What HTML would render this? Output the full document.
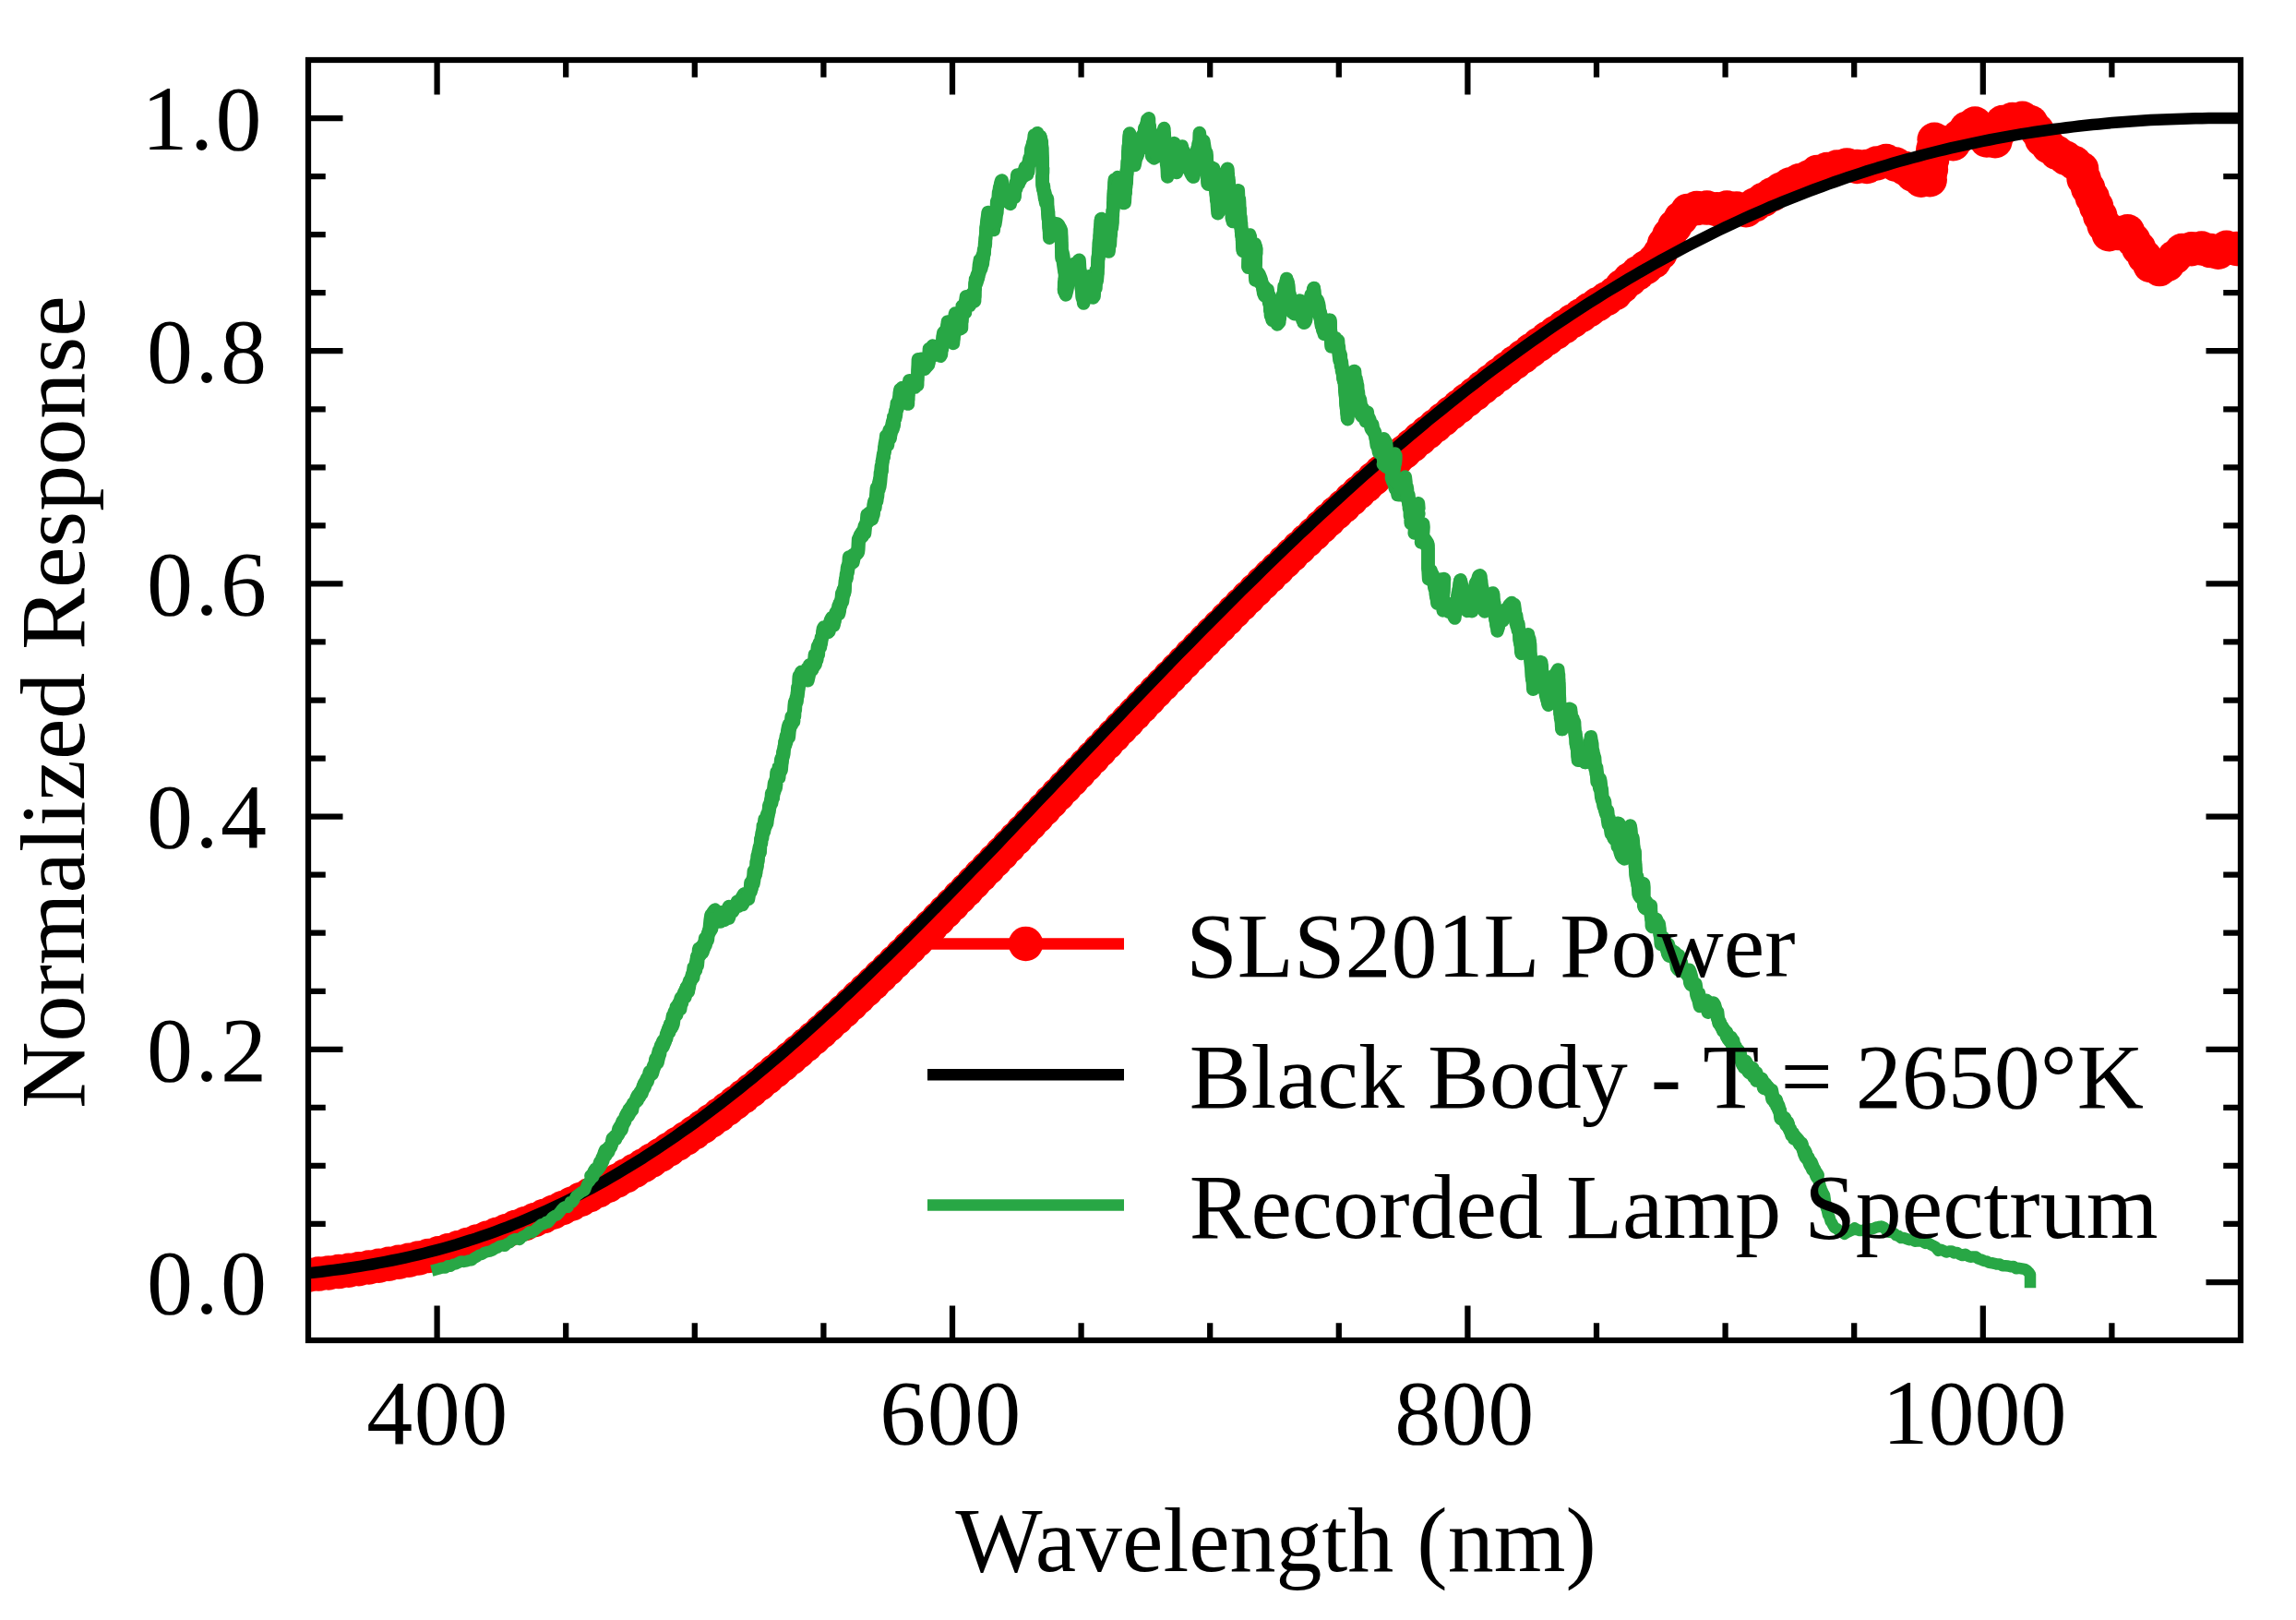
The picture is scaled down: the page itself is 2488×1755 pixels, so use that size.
<!DOCTYPE html>
<html lang="en"><head><meta charset="utf-8"><title>Lamp spectrum</title>
<style>html,body{margin:0;padding:0;background:#fff}body{width:2488px;height:1755px;overflow:hidden}svg{display:block}</style>
</head><body>
<svg width="2488" height="1755" viewBox="0 0 2488 1755" font-family='"Liberation Serif", serif' font-size="100" fill="#000">
<rect width="2488" height="1755" fill="#fff"/>
<defs><clipPath id="ax"><rect x="334.0" y="65.0" width="2094.0" height="1387.0"/></clipPath></defs>
<path d="M473.60 1452.0v-37.5M473.60 65.0v37.5M613.20 1452.0v-18.75M613.20 65.0v18.75M752.80 1452.0v-18.75M752.80 65.0v18.75M892.40 1452.0v-18.75M892.40 65.0v18.75M1032.00 1452.0v-37.5M1032.00 65.0v37.5M1171.60 1452.0v-18.75M1171.60 65.0v18.75M1311.20 1452.0v-18.75M1311.20 65.0v18.75M1450.80 1452.0v-18.75M1450.80 65.0v18.75M1590.40 1452.0v-37.5M1590.40 65.0v37.5M1730.00 1452.0v-18.75M1730.00 65.0v18.75M1869.60 1452.0v-18.75M1869.60 65.0v18.75M2009.20 1452.0v-18.75M2009.20 65.0v18.75M2148.80 1452.0v-37.5M2148.80 65.0v37.5M2288.40 1452.0v-18.75M2288.40 65.0v18.75M334.0 1389.00h37.5M2428.0 1389.00h-37.5M334.0 1325.95h18.75M2428.0 1325.95h-18.75M334.0 1262.90h18.75M2428.0 1262.90h-18.75M334.0 1199.85h18.75M2428.0 1199.85h-18.75M334.0 1136.80h37.5M2428.0 1136.80h-37.5M334.0 1073.75h18.75M2428.0 1073.75h-18.75M334.0 1010.70h18.75M2428.0 1010.70h-18.75M334.0 947.65h18.75M2428.0 947.65h-18.75M334.0 884.60h37.5M2428.0 884.60h-37.5M334.0 821.55h18.75M2428.0 821.55h-18.75M334.0 758.50h18.75M2428.0 758.50h-18.75M334.0 695.45h18.75M2428.0 695.45h-18.75M334.0 632.40h37.5M2428.0 632.40h-37.5M334.0 569.35h18.75M2428.0 569.35h-18.75M334.0 506.30h18.75M2428.0 506.30h-18.75M334.0 443.25h18.75M2428.0 443.25h-18.75M334.0 380.20h37.5M2428.0 380.20h-37.5M334.0 317.15h18.75M2428.0 317.15h-18.75M334.0 254.10h18.75M2428.0 254.10h-18.75M334.0 191.05h18.75M2428.0 191.05h-18.75M334.0 128.00h37.5M2428.0 128.00h-37.5" stroke="#000" stroke-width="6.25" fill="none"/>
<g clip-path="url(#ax)" fill="none" stroke-linejoin="round">
<polyline points="334.2,1381.2 339.8,1380.7 345.4,1380.1 351.0,1379.5 356.6,1378.9 362.2,1378.2 367.8,1377.5 373.4,1376.8 379.0,1376.1 384.7,1375.3 390.3,1374.5 395.9,1373.6 401.5,1372.7 407.1,1371.8 412.7,1370.9 418.3,1369.9 424.0,1368.9 429.6,1367.8 435.2,1366.7 440.8,1365.6 446.5,1364.4 452.1,1363.2 457.7,1362.0 463.4,1360.7 469.0,1359.3 474.6,1358.0 480.2,1356.4 485.8,1354.8 491.4,1353.1 497.1,1351.4 502.7,1349.7 508.3,1347.9 513.9,1346.1 519.5,1344.2 525.1,1342.2 530.7,1340.3 536.3,1338.2 541.9,1336.1 547.5,1334.0 553.1,1331.8 558.7,1329.6 564.3,1327.4 570.0,1325.3 575.7,1323.1 581.3,1320.8 587.0,1318.5 592.7,1316.1 598.4,1313.6 604.1,1311.1 609.7,1308.6 615.4,1306.0 621.1,1303.3 626.8,1300.6 632.5,1297.9 638.2,1295.1 643.9,1292.2 649.6,1289.3 655.3,1286.3 661.0,1283.2 666.7,1280.2 672.4,1277.0 678.1,1273.8 683.8,1270.6 689.5,1267.2 695.2,1263.9 700.9,1260.4 706.6,1256.9 712.3,1253.4 718.0,1249.8 723.7,1246.2 729.3,1242.5 735.0,1238.7 740.7,1234.9 746.4,1231.1 752.1,1227.2 757.8,1223.2 763.5,1219.2 769.2,1215.2 774.9,1211.1 780.6,1206.9 786.3,1202.6 791.9,1198.4 797.6,1194.0 803.3,1189.7 808.9,1185.2 814.6,1180.8 820.2,1176.3 825.9,1171.7 831.6,1167.1 837.2,1162.5 842.9,1157.8 848.6,1153.1 854.2,1148.3 859.9,1143.5 865.5,1138.7 871.2,1133.8 876.8,1128.9 882.5,1124.0 888.2,1119.0 893.8,1114.0 899.5,1108.9 905.1,1103.8 910.7,1098.6 916.3,1093.4 921.9,1088.2 927.5,1082.9 933.1,1077.6 938.7,1072.3 944.3,1066.9 949.9,1061.5 955.5,1056.1 961.1,1050.7 966.7,1045.2 972.3,1039.7 977.9,1034.2 983.5,1028.7 989.1,1023.1 994.7,1017.5 1000.3,1011.9 1005.9,1006.3 1011.5,1000.7 1017.1,995.0 1022.7,989.3 1028.3,983.7 1033.9,977.9 1039.5,972.2 1045.1,966.5 1050.7,960.7 1056.3,954.9 1061.9,949.2 1067.5,943.4 1073.1,937.6 1078.7,931.7 1084.3,925.9 1089.8,920.1 1095.4,914.2 1101.0,908.4 1106.6,902.5 1112.2,896.6 1117.8,890.8 1123.4,884.9 1129.0,879.0 1134.5,873.1 1140.1,867.2 1145.7,861.4 1151.3,855.5 1156.9,849.6 1162.5,843.7 1168.1,837.8 1173.6,831.9 1179.2,826.0 1184.8,820.1 1190.4,814.3 1196.0,808.4 1201.5,802.5 1207.1,796.6 1212.7,790.8 1218.3,784.9 1223.9,779.1 1229.4,773.3 1235.0,767.4 1240.6,761.6 1246.2,755.8 1251.8,750.0 1257.3,744.2 1262.9,738.4 1268.5,732.7 1274.1,726.9 1279.6,721.2 1285.2,715.4 1290.8,709.7 1296.4,704.0 1301.9,698.3 1307.5,692.7 1313.1,687.0 1318.7,681.4 1324.2,675.8 1329.8,670.1 1335.3,664.6 1340.9,659.0 1346.4,653.4 1352.0,647.9 1357.6,642.4 1363.1,636.9 1368.7,631.4 1374.2,625.9 1379.8,620.5 1385.3,615.1 1390.9,609.7 1396.5,604.3 1402.0,599.0 1407.6,593.6 1413.1,588.3 1418.7,583.1 1424.2,577.8 1429.8,572.6 1435.3,567.4 1440.9,562.2 1446.4,557.1 1452.0,552.0 1457.5,546.9 1463.1,541.8 1468.6,536.7 1474.1,531.7 1479.7,526.7 1485.2,521.7 1490.8,516.8 1496.3,511.9 1501.8,507.0 1507.4,502.1 1512.9,497.3 1518.4,492.5 1524.0,487.7 1529.5,483.0 1535.0,478.3 1540.6,473.6 1546.1,468.9 1551.6,464.3 1557.2,459.7 1562.7,455.2 1568.3,450.6 1573.8,446.1 1579.3,441.7 1584.9,437.2 1590.4,432.8 1595.9,428.5 1601.4,424.1 1606.9,419.7 1612.4,415.3 1617.8,411.0 1623.3,406.7 1628.8,402.5 1634.3,398.3 1639.8,394.1 1645.2,389.9 1650.7,385.8 1656.2,381.7 1661.7,377.7 1667.2,373.7 1672.6,369.7 1678.1,365.7 1683.6,361.8 1689.2,358.0 1694.7,354.2 1700.2,350.4 1705.7,346.7 1711.2,343.0 1716.8,339.3 1722.3,335.6 1727.8,332.0 1733.3,328.5 1738.8,324.9 1744.4,321.4 1749.9,317.9 1762.0,306.0 1777.0,294.0 1790.6,285.0 1798.8,275.0 1805.6,260.0 1817.5,241.0 1831.0,226.0 1849.0,225.0 1862.0,227.0 1876.0,224.0 1890.0,229.0 1908.0,218.0 1925.0,208.0 1943.0,198.0 1959.0,192.5 1970.0,186.0 2000.0,178.8 2020.0,181.5 2042.5,174.0 2062.5,181.0 2080.0,195.0 2091.0,196.5 2096.0,151.2 2115.0,157.5 2130.0,140.0 2140.0,133.8 2155.0,155.0 2162.5,152.5 2170.0,132.5 2185.0,128.2 2196.2,128.2 2205.0,137.5 2215.0,155.0 2230.0,166.2 2245.0,175.0 2255.0,180.0 2257.5,192.5 2270.0,220.0 2282.5,250.0 2286.2,255.0 2305.0,250.0 2320.0,272.5 2330.0,287.5 2342.5,292.5 2352.0,283.0 2360.0,275.0 2367.0,269.5 2380.0,270.0 2391.0,268.0 2400.7,276.0 2409.6,268.0 2423.5,269.5 2440.0,269.5" stroke="#ff0000" stroke-width="12.5" stroke-linecap="round"/>
<g fill="#ff0000" stroke="none"><circle cx="334.2" cy="1381.2" r="18.75"/><circle cx="345.2" cy="1380.1" r="18.75"/><circle cx="356.1" cy="1378.9" r="18.75"/><circle cx="367.0" cy="1377.6" r="18.75"/><circle cx="377.9" cy="1376.2" r="18.75"/><circle cx="388.8" cy="1374.7" r="18.75"/><circle cx="399.7" cy="1373.0" r="18.75"/><circle cx="410.5" cy="1371.2" r="18.75"/><circle cx="421.4" cy="1369.3" r="18.75"/><circle cx="432.2" cy="1367.3" r="18.75"/><circle cx="443.0" cy="1365.2" r="18.75"/><circle cx="453.7" cy="1362.9" r="18.75"/><circle cx="464.5" cy="1360.4" r="18.75"/><circle cx="475.2" cy="1357.8" r="18.75"/><circle cx="485.7" cy="1354.8" r="18.75"/><circle cx="496.3" cy="1351.7" r="18.75"/><circle cx="506.8" cy="1348.4" r="18.75"/><circle cx="517.2" cy="1344.9" r="18.75"/><circle cx="527.6" cy="1341.3" r="18.75"/><circle cx="538.0" cy="1337.6" r="18.75"/><circle cx="548.2" cy="1333.7" r="18.75"/><circle cx="558.5" cy="1329.6" r="18.75"/><circle cx="568.8" cy="1325.8" r="18.75"/><circle cx="579.0" cy="1321.7" r="18.75"/><circle cx="589.2" cy="1317.6" r="18.75"/><circle cx="599.3" cy="1313.2" r="18.75"/><circle cx="609.3" cy="1308.8" r="18.75"/><circle cx="619.3" cy="1304.2" r="18.75"/><circle cx="629.3" cy="1299.4" r="18.75"/><circle cx="639.1" cy="1294.6" r="18.75"/><circle cx="648.9" cy="1289.6" r="18.75"/><circle cx="658.7" cy="1284.5" r="18.75"/><circle cx="668.3" cy="1279.2" r="18.75"/><circle cx="678.0" cy="1273.9" r="18.75"/><circle cx="687.5" cy="1268.4" r="18.75"/><circle cx="697.0" cy="1262.8" r="18.75"/><circle cx="706.3" cy="1257.1" r="18.75"/><circle cx="715.7" cy="1251.2" r="18.75"/><circle cx="724.9" cy="1245.3" r="18.75"/><circle cx="734.1" cy="1239.3" r="18.75"/><circle cx="743.3" cy="1233.2" r="18.75"/><circle cx="752.4" cy="1227.0" r="18.75"/><circle cx="761.4" cy="1220.7" r="18.75"/><circle cx="770.4" cy="1214.3" r="18.75"/><circle cx="779.3" cy="1207.9" r="18.75"/><circle cx="788.1" cy="1201.3" r="18.75"/><circle cx="796.8" cy="1194.6" r="18.75"/><circle cx="805.5" cy="1187.9" r="18.75"/><circle cx="814.2" cy="1181.1" r="18.75"/><circle cx="822.8" cy="1174.2" r="18.75"/><circle cx="831.3" cy="1167.3" r="18.75"/><circle cx="839.8" cy="1160.3" r="18.75"/><circle cx="848.3" cy="1153.3" r="18.75"/><circle cx="856.7" cy="1146.2" r="18.75"/><circle cx="865.1" cy="1139.1" r="18.75"/><circle cx="873.4" cy="1131.9" r="18.75"/><circle cx="881.7" cy="1124.7" r="18.75"/><circle cx="890.0" cy="1117.4" r="18.75"/><circle cx="898.2" cy="1110.1" r="18.75"/><circle cx="906.3" cy="1102.7" r="18.75"/><circle cx="914.4" cy="1095.2" r="18.75"/><circle cx="922.4" cy="1087.7" r="18.75"/><circle cx="930.4" cy="1080.1" r="18.75"/><circle cx="938.4" cy="1072.6" r="18.75"/><circle cx="946.4" cy="1065.0" r="18.75"/><circle cx="954.3" cy="1057.3" r="18.75"/><circle cx="962.2" cy="1049.7" r="18.75"/><circle cx="970.0" cy="1042.0" r="18.75"/><circle cx="977.9" cy="1034.3" r="18.75"/><circle cx="985.7" cy="1026.5" r="18.75"/><circle cx="993.5" cy="1018.8" r="18.75"/><circle cx="1001.3" cy="1011.0" r="18.75"/><circle cx="1009.0" cy="1003.2" r="18.75"/><circle cx="1016.8" cy="995.4" r="18.75"/><circle cx="1024.5" cy="987.6" r="18.75"/><circle cx="1032.2" cy="979.7" r="18.75"/><circle cx="1039.9" cy="971.8" r="18.75"/><circle cx="1047.6" cy="964.0" r="18.75"/><circle cx="1055.2" cy="956.1" r="18.75"/><circle cx="1062.9" cy="948.1" r="18.75"/><circle cx="1070.5" cy="940.2" r="18.75"/><circle cx="1078.1" cy="932.3" r="18.75"/><circle cx="1085.7" cy="924.4" r="18.75"/><circle cx="1093.3" cy="916.4" r="18.75"/><circle cx="1100.9" cy="908.5" r="18.75"/><circle cx="1108.5" cy="900.5" r="18.75"/><circle cx="1116.1" cy="892.5" r="18.75"/><circle cx="1123.7" cy="884.6" r="18.75"/><circle cx="1131.3" cy="876.6" r="18.75"/><circle cx="1138.8" cy="868.6" r="18.75"/><circle cx="1146.4" cy="860.6" r="18.75"/><circle cx="1154.0" cy="852.6" r="18.75"/><circle cx="1161.5" cy="844.7" r="18.75"/><circle cx="1169.1" cy="836.7" r="18.75"/><circle cx="1176.7" cy="828.7" r="18.75"/><circle cx="1184.3" cy="820.7" r="18.75"/><circle cx="1191.8" cy="812.7" r="18.75"/><circle cx="1199.4" cy="804.8" r="18.75"/><circle cx="1207.0" cy="796.8" r="18.75"/><circle cx="1214.6" cy="788.8" r="18.75"/><circle cx="1222.2" cy="780.9" r="18.75"/><circle cx="1229.8" cy="772.9" r="18.75"/><circle cx="1237.4" cy="765.0" r="18.75"/><circle cx="1245.0" cy="757.0" r="18.75"/><circle cx="1252.6" cy="749.1" r="18.75"/><circle cx="1260.2" cy="741.2" r="18.75"/><circle cx="1267.9" cy="733.3" r="18.75"/><circle cx="1275.6" cy="725.4" r="18.75"/><circle cx="1283.2" cy="717.5" r="18.75"/><circle cx="1290.9" cy="709.6" r="18.75"/><circle cx="1298.6" cy="701.8" r="18.75"/><circle cx="1306.3" cy="693.9" r="18.75"/><circle cx="1314.0" cy="686.1" r="18.75"/><circle cx="1321.8" cy="678.3" r="18.75"/><circle cx="1329.5" cy="670.4" r="18.75"/><circle cx="1337.2" cy="662.6" r="18.75"/><circle cx="1345.0" cy="654.8" r="18.75"/><circle cx="1352.8" cy="647.1" r="18.75"/><circle cx="1360.6" cy="639.3" r="18.75"/><circle cx="1368.4" cy="631.6" r="18.75"/><circle cx="1376.3" cy="623.9" r="18.75"/><circle cx="1384.2" cy="616.2" r="18.75"/><circle cx="1392.1" cy="608.6" r="18.75"/><circle cx="1400.0" cy="600.9" r="18.75"/><circle cx="1407.9" cy="593.3" r="18.75"/><circle cx="1415.9" cy="585.7" r="18.75"/><circle cx="1423.9" cy="578.2" r="18.75"/><circle cx="1431.9" cy="570.6" r="18.75"/><circle cx="1439.9" cy="563.1" r="18.75"/><circle cx="1448.0" cy="555.6" r="18.75"/><circle cx="1456.1" cy="548.2" r="18.75"/><circle cx="1464.2" cy="540.8" r="18.75"/><circle cx="1472.3" cy="533.3" r="18.75"/><circle cx="1480.5" cy="526.0" r="18.75"/><circle cx="1488.7" cy="518.6" r="18.75"/><circle cx="1496.9" cy="511.3" r="18.75"/><circle cx="1505.2" cy="504.1" r="18.75"/><circle cx="1513.4" cy="496.8" r="18.75"/><circle cx="1521.8" cy="489.6" r="18.75"/><circle cx="1530.1" cy="482.5" r="18.75"/><circle cx="1538.5" cy="475.3" r="18.75"/><circle cx="1546.9" cy="468.3" r="18.75"/><circle cx="1555.4" cy="461.2" r="18.75"/><circle cx="1563.9" cy="454.2" r="18.75"/><circle cx="1572.4" cy="447.3" r="18.75"/><circle cx="1581.0" cy="440.4" r="18.75"/><circle cx="1589.5" cy="433.5" r="18.75"/><circle cx="1598.2" cy="426.7" r="18.75"/><circle cx="1606.7" cy="419.8" r="18.75"/><circle cx="1615.4" cy="413.0" r="18.75"/><circle cx="1624.0" cy="406.2" r="18.75"/><circle cx="1632.7" cy="399.5" r="18.75"/><circle cx="1641.5" cy="392.8" r="18.75"/><circle cx="1650.3" cy="386.2" r="18.75"/><circle cx="1659.1" cy="379.6" r="18.75"/><circle cx="1668.0" cy="373.1" r="18.75"/><circle cx="1676.9" cy="366.6" r="18.75"/><circle cx="1685.9" cy="360.3" r="18.75"/><circle cx="1694.9" cy="354.0" r="18.75"/><circle cx="1704.0" cy="347.8" r="18.75"/><circle cx="1713.1" cy="341.7" r="18.75"/><circle cx="1722.3" cy="335.6" r="18.75"/><circle cx="1731.5" cy="329.6" r="18.75"/><circle cx="1740.8" cy="323.7" r="18.75"/><circle cx="1750.0" cy="317.8" r="18.75"/><circle cx="1757.9" cy="310.1" r="18.75"/><circle cx="1766.1" cy="302.7" r="18.75"/><circle cx="1774.7" cy="295.9" r="18.75"/><circle cx="1783.7" cy="289.6" r="18.75"/><circle cx="1792.3" cy="282.9" r="18.75"/><circle cx="1799.1" cy="274.3" r="18.75"/><circle cx="1803.6" cy="264.3" r="18.75"/><circle cx="1808.9" cy="254.7" r="18.75"/><circle cx="1814.8" cy="245.3" r="18.75"/><circle cx="1821.4" cy="236.6" r="18.75"/><circle cx="1828.8" cy="228.4" r="18.75"/><circle cx="1838.7" cy="225.6" r="18.75"/><circle cx="1849.7" cy="225.1" r="18.75"/><circle cx="1860.5" cy="226.8" r="18.75"/><circle cx="1871.3" cy="225.0" r="18.75"/><circle cx="1881.8" cy="226.1" r="18.75"/><circle cx="1892.0" cy="227.8" r="18.75"/><circle cx="1901.4" cy="222.0" r="18.75"/><circle cx="1910.8" cy="216.4" r="18.75"/><circle cx="1920.3" cy="210.8" r="18.75"/><circle cx="1929.8" cy="205.3" r="18.75"/><circle cx="1939.4" cy="200.0" r="18.75"/><circle cx="1949.6" cy="195.7" r="18.75"/><circle cx="1959.9" cy="192.0" r="18.75"/><circle cx="1969.3" cy="186.4" r="18.75"/><circle cx="1979.9" cy="183.6" r="18.75"/><circle cx="1990.6" cy="181.0" r="18.75"/><circle cx="2001.4" cy="178.9" r="18.75"/><circle cx="2012.3" cy="180.4" r="18.75"/><circle cx="2023.0" cy="180.5" r="18.75"/><circle cx="2033.5" cy="177.0" r="18.75"/><circle cx="2043.9" cy="174.5" r="18.75"/><circle cx="2054.3" cy="178.1" r="18.75"/><circle cx="2064.3" cy="182.4" r="18.75"/><circle cx="2072.9" cy="189.3" r="18.75"/><circle cx="2081.8" cy="195.3" r="18.75"/><circle cx="2091.2" cy="194.7" r="18.75"/><circle cx="2092.4" cy="183.8" r="18.75"/><circle cx="2093.6" cy="172.9" r="18.75"/><circle cx="2094.8" cy="161.9" r="18.75"/><circle cx="2096.2" cy="151.3" r="18.75"/><circle cx="2106.7" cy="154.8" r="18.75"/><circle cx="2116.5" cy="155.8" r="18.75"/><circle cx="2123.6" cy="147.5" r="18.75"/><circle cx="2131.0" cy="139.4" r="18.75"/><circle cx="2140.2" cy="134.1" r="18.75"/><circle cx="2146.6" cy="143.1" r="18.75"/><circle cx="2152.9" cy="152.0" r="18.75"/><circle cx="2162.0" cy="152.7" r="18.75"/><circle cx="2166.2" cy="142.7" r="18.75"/><circle cx="2170.1" cy="132.5" r="18.75"/><circle cx="2180.7" cy="129.5" r="18.75"/><circle cx="2191.5" cy="128.2" r="18.75"/><circle cx="2200.6" cy="132.8" r="18.75"/><circle cx="2207.3" cy="141.4" r="18.75"/><circle cx="2212.7" cy="151.0" r="18.75"/><circle cx="2220.1" cy="158.8" r="18.75"/><circle cx="2228.9" cy="165.4" r="18.75"/><circle cx="2238.3" cy="171.1" r="18.75"/><circle cx="2247.9" cy="176.5" r="18.75"/><circle cx="2255.6" cy="183.0" r="18.75"/><circle cx="2258.1" cy="193.7" r="18.75"/><circle cx="2262.6" cy="203.7" r="18.75"/><circle cx="2267.2" cy="213.8" r="18.75"/><circle cx="2271.6" cy="223.8" r="18.75"/><circle cx="2275.8" cy="234.0" r="18.75"/><circle cx="2280.1" cy="244.1" r="18.75"/><circle cx="2285.3" cy="253.7" r="18.75"/><circle cx="2295.3" cy="252.6" r="18.75"/><circle cx="2305.5" cy="250.8" r="18.75"/><circle cx="2311.6" cy="260.0" r="18.75"/><circle cx="2317.7" cy="269.1" r="18.75"/><circle cx="2323.9" cy="278.3" r="18.75"/><circle cx="2330.0" cy="287.4" r="18.75"/><circle cx="2340.1" cy="291.6" r="18.75"/><circle cx="2348.5" cy="286.5" r="18.75"/><circle cx="2356.3" cy="278.7" r="18.75"/><circle cx="2364.5" cy="271.5" r="18.75"/><circle cx="2374.8" cy="269.8" r="18.75"/><circle cx="2385.7" cy="269.0" r="18.75"/><circle cx="2395.3" cy="271.6" r="18.75"/><circle cx="2403.7" cy="273.3" r="18.75"/><circle cx="2412.7" cy="268.3" r="18.75"/><circle cx="2423.6" cy="269.5" r="18.75"/><circle cx="2434.6" cy="269.5" r="18.75"/></g>
<polyline points="334.0,1379.2 341.0,1378.5 348.0,1377.7 354.9,1376.8 361.9,1375.9 368.9,1375.0 375.9,1374.0 382.9,1372.9 389.8,1371.8 396.8,1370.7 403.8,1369.5 410.8,1368.2 417.8,1366.9 424.7,1365.5 431.7,1364.1 438.7,1362.6 445.7,1361.0 452.7,1359.4 459.6,1357.7 466.6,1355.9 473.6,1354.1 480.6,1352.2 487.6,1350.2 494.5,1348.2 501.5,1346.0 508.5,1343.8 515.5,1341.6 522.5,1339.2 529.4,1336.8 536.4,1334.3 543.4,1331.7 550.4,1329.1 557.4,1326.3 564.3,1323.5 571.3,1320.6 578.3,1317.6 585.3,1314.5 592.3,1311.4 599.2,1308.2 606.2,1304.9 613.2,1301.5 620.2,1298.0 627.2,1294.4 634.1,1290.8 641.1,1287.1 648.1,1283.2 655.1,1279.4 662.1,1275.4 669.0,1271.3 676.0,1267.2 683.0,1262.9 690.0,1258.6 697.0,1254.3 703.9,1249.8 710.9,1245.2 717.9,1240.6 724.9,1235.9 731.9,1231.1 738.8,1226.2 745.8,1221.3 752.8,1216.3 759.8,1211.2 766.8,1206.0 773.7,1200.7 780.7,1195.4 787.7,1190.0 794.7,1184.6 801.7,1179.0 808.6,1173.4 815.6,1167.8 822.6,1162.0 829.6,1156.2 836.6,1150.3 843.5,1144.4 850.5,1138.4 857.5,1132.3 864.5,1126.2 871.5,1120.0 878.4,1113.8 885.4,1107.5 892.4,1101.2 899.4,1094.8 906.4,1088.3 913.3,1081.8 920.3,1075.3 927.3,1068.7 934.3,1062.0 941.3,1055.3 948.2,1048.6 955.2,1041.8 962.2,1035.0 969.2,1028.1 976.2,1021.2 983.1,1014.3 990.1,1007.3 997.1,1000.3 1004.1,993.3 1011.1,986.2 1018.0,979.1 1025.0,972.0 1032.0,964.9 1039.0,957.7 1046.0,950.5 1052.9,943.3 1059.9,936.1 1066.9,928.8 1073.9,921.6 1080.9,914.3 1087.8,907.0 1094.8,899.7 1101.8,892.3 1108.8,885.0 1115.8,877.7 1122.7,870.3 1129.7,863.0 1136.7,855.6 1143.7,848.2 1150.7,840.9 1157.6,833.5 1164.6,826.2 1171.6,818.8 1178.6,811.4 1185.6,804.1 1192.5,796.7 1199.5,789.4 1206.5,782.1 1213.5,774.8 1220.5,767.5 1227.4,760.2 1234.4,752.9 1241.4,745.6 1248.4,738.4 1255.4,731.1 1262.3,723.9 1269.3,716.7 1276.3,709.5 1283.3,702.4 1290.3,695.3 1297.2,688.1 1304.2,681.1 1311.2,674.0 1318.2,667.0 1325.2,660.0 1332.1,653.0 1339.1,646.0 1346.1,639.1 1353.1,632.2 1360.1,625.4 1367.0,618.5 1374.0,611.8 1381.0,605.0 1388.0,598.3 1395.0,591.6 1401.9,584.9 1408.9,578.3 1415.9,571.8 1422.9,565.2 1429.9,558.7 1436.8,552.3 1443.8,545.8 1450.8,539.5 1457.8,533.1 1464.8,526.8 1471.7,520.6 1478.7,514.4 1485.7,508.2 1492.7,502.1 1499.7,496.0 1506.6,490.0 1513.6,484.0 1520.6,478.1 1527.6,472.2 1534.6,466.4 1541.5,460.6 1548.5,454.8 1555.5,449.1 1562.5,443.5 1569.5,437.9 1576.4,432.3 1583.4,426.8 1590.4,421.4 1597.4,416.0 1604.4,410.6 1611.3,405.3 1618.3,400.1 1625.3,394.9 1632.3,389.7 1639.3,384.6 1646.2,379.6 1653.2,374.6 1660.2,369.7 1667.2,364.8 1674.2,359.9 1681.1,355.2 1688.1,350.4 1695.1,345.8 1702.1,341.1 1709.1,336.6 1716.0,332.1 1723.0,327.6 1730.0,323.2 1737.0,318.8 1744.0,314.5 1750.9,310.3 1757.9,306.1 1764.9,301.9 1771.9,297.8 1778.9,293.8 1785.8,289.8 1792.8,285.9 1799.8,282.0 1806.8,278.2 1813.8,274.4 1820.7,270.7 1827.7,267.0 1834.7,263.4 1841.7,259.9 1848.7,256.4 1855.6,252.9 1862.6,249.5 1869.6,246.1 1876.6,242.8 1883.6,239.6 1890.5,236.4 1897.5,233.3 1904.5,230.2 1911.5,227.1 1918.5,224.1 1925.4,221.2 1932.4,218.3 1939.4,215.5 1946.4,212.7 1953.4,210.0 1960.3,207.3 1967.3,204.6 1974.3,202.1 1981.3,199.5 1988.3,197.0 1995.2,194.6 2002.2,192.2 2009.2,189.9 2016.2,187.6 2023.2,185.3 2030.1,183.1 2037.1,181.0 2044.1,178.9 2051.1,176.8 2058.1,174.8 2065.0,172.9 2072.0,171.0 2079.0,169.1 2086.0,167.3 2093.0,165.5 2099.9,163.8 2106.9,162.1 2113.9,160.4 2120.9,158.8 2127.9,157.3 2134.8,155.8 2141.8,154.3 2148.8,152.9 2155.8,151.5 2162.8,150.2 2169.7,148.9 2176.7,147.6 2183.7,146.4 2190.7,145.2 2197.7,144.1 2204.6,143.0 2211.6,142.0 2218.6,141.0 2225.6,140.0 2232.6,139.1 2239.5,138.2 2246.5,137.4 2253.5,136.5 2260.5,135.8 2267.5,135.0 2274.4,134.4 2281.4,133.7 2288.4,133.1 2295.4,132.5 2302.4,132.0 2309.3,131.4 2316.3,131.0 2323.3,130.5 2330.3,130.1 2337.3,129.8 2344.2,129.4 2351.2,129.2 2358.2,128.9 2365.2,128.7 2372.2,128.5 2379.1,128.3 2386.1,128.2 2393.1,128.1 2400.1,128.0 2407.1,128.0 2414.0,128.0 2421.0,128.0 2428.0,128.1" stroke="#000" stroke-width="12.5" stroke-linecap="square"/>
<polyline points="467.8,1376.6 473.8,1375.0 476.6,1374.2 479.5,1373.5 482.4,1373.6 485.3,1371.2 488.2,1371.8 491.1,1369.7 494.0,1369.4 496.9,1367.8 499.7,1366.4 502.6,1366.9 505.4,1366.4 508.2,1365.4 511.1,1365.2 513.9,1362.8 516.7,1361.4 519.4,1359.5 522.2,1358.9 525.0,1357.0 527.8,1356.1 530.6,1355.6 533.3,1354.6 536.0,1352.9 538.7,1351.8 541.5,1349.8 544.2,1349.3 546.9,1349.8 549.6,1347.3 552.3,1346.2 555.0,1343.7 557.8,1342.3 560.5,1342.3 563.2,1342.9 565.9,1339.9 568.6,1338.5 571.1,1337.0 573.7,1334.5 576.3,1335.3 578.9,1333.3 581.4,1331.0 584.0,1328.8 586.6,1326.3 589.2,1326.3 591.7,1323.8 594.1,1324.5 596.5,1321.4 598.8,1318.5 601.2,1317.0 603.5,1316.4 605.9,1313.9 608.3,1310.6 610.7,1308.1 613.2,1306.9 615.6,1307.7 617.8,1302.4 619.8,1302.8 621.8,1300.6 623.9,1296.1 625.9,1294.4 627.9,1292.9 629.9,1291.4 631.9,1290.5 633.9,1289.2 635.7,1284.3 637.3,1281.3 638.9,1280.0 640.5,1277.5 642.2,1274.8 643.8,1269.1 645.4,1268.6 647.0,1267.7 648.6,1265.6 650.2,1263.5 651.8,1260.4 653.3,1257.6 654.7,1250.0 656.2,1251.9 657.6,1246.2 659.0,1244.0 660.4,1242.3 661.9,1242.1 663.3,1237.4 664.7,1233.3 666.1,1231.1 667.5,1231.9 669.0,1229.3 670.4,1223.0 671.9,1220.5 673.4,1218.1 674.9,1214.1 676.4,1213.6 677.9,1209.1 679.3,1208.8 680.8,1208.8 682.3,1206.1 683.8,1199.3 685.3,1197.6 686.8,1195.8 688.3,1194.1 689.8,1189.2 691.2,1186.3 692.6,1185.3 694.0,1182.6 695.5,1184.7 696.9,1179.5 698.3,1173.4 699.7,1171.4 701.1,1168.1 702.6,1166.6 704.0,1164.0 705.4,1162.9 706.8,1163.3 708.1,1158.5 709.3,1155.5 710.4,1147.0 711.6,1147.2 712.7,1143.3 713.9,1138.4 715.0,1138.0 716.2,1133.0 717.3,1131.9 718.5,1134.1 719.7,1130.8 720.9,1128.2 722.1,1120.1 723.4,1117.8 724.6,1113.6 725.8,1111.3 727.1,1108.3 728.3,1112.8 729.6,1109.3 730.8,1099.8 732.0,1096.5 733.2,1099.2 734.4,1092.1 735.5,1087.0 736.7,1085.3 737.8,1080.9 739.0,1081.2 740.2,1080.1 741.3,1076.7 742.5,1078.2 743.6,1070.0 744.8,1073.3 745.9,1074.3 746.9,1062.9 748.0,1063.1 749.1,1061.2 750.1,1055.2 751.2,1059.1 752.2,1051.8 753.1,1049.2 754.0,1051.0 754.9,1039.3 755.8,1045.8 756.7,1035.7 757.6,1036.0 758.5,1034.8 759.6,1032.5 760.8,1024.8 762.0,1024.4 763.2,1021.4 764.4,1024.6 765.6,1020.2 766.8,1012.1 767.9,1011.7 768.7,1006.8 769.6,997.2 770.5,991.2 771.4,994.3 772.3,988.8 774.7,985.6 777.7,998.1 780.7,998.5 783.3,990.5 785.4,988.6 787.6,990.6 789.7,994.8 791.8,988.0 794.2,987.3 796.6,981.2 799.1,979.1 801.5,979.0 804.0,972.0 806.4,968.2 808.7,971.9 811.0,973.9 812.8,963.4 813.6,965.9 814.4,959.9 815.2,955.5 816.0,955.6 816.8,943.8 817.6,942.5 818.4,948.1 819.1,945.4 819.6,933.4 820.2,938.5 820.7,927.2 821.3,925.8 821.8,922.7 822.4,922.0 822.9,920.3 823.4,923.4 823.9,915.3 824.4,909.0 824.9,907.9 825.6,902.4 826.4,900.2 827.2,902.4 828.0,900.9 828.8,895.6 829.6,894.6 830.4,888.7 831.2,891.6 831.9,885.2 832.6,879.3 833.4,879.8 834.1,873.2 834.8,870.8 835.6,865.5 836.3,869.4 837.0,860.2 837.7,864.4 838.3,854.8 839.0,848.5 839.6,851.3 840.2,848.5 840.8,847.5 841.5,836.4 842.3,841.3 843.1,839.6 843.9,830.8 844.8,830.0 845.6,829.1 846.4,821.9 847.2,826.1 847.9,821.2 848.5,820.0 849.2,812.5 849.8,810.3 850.5,803.7 851.1,802.0 851.8,803.8 852.4,803.4 853.3,791.4 854.1,787.3 855.0,784.6 855.9,785.6 856.7,786.5 857.6,776.9 858.4,776.6 859.3,773.9 860.1,774.5 860.7,764.3 861.2,760.0 861.8,762.9 862.3,758.5 862.9,755.2 863.4,758.0 863.9,754.3 864.3,744.8 864.6,747.2 865.0,747.2 865.4,745.6 865.8,732.4 866.1,738.5 868.0,728.1 870.7,734.4 873.3,733.9 875.4,737.3 876.8,731.1 878.1,722.1 879.5,726.3 880.8,718.5 881.9,721.5 882.9,709.0 883.9,708.9 885.0,709.4 886.0,700.5 887.0,703.1 888.0,700.7 888.9,698.1 889.9,696.7 890.8,689.3 891.7,684.0 892.9,683.4 894.8,683.9 896.6,678.3 898.5,683.8 900.4,674.4 902.3,671.1 903.4,677.6 904.5,672.9 905.6,663.8 906.6,662.3 907.7,665.2 908.7,660.4 909.6,653.8 910.5,653.2 911.3,655.2 912.2,643.0 913.0,651.5 913.9,644.1 914.7,637.2 915.4,640.4 916.1,628.0 916.7,627.5 917.4,625.1 918.1,617.2 918.7,620.1 919.4,613.8 920.0,603.5 921.5,603.7 923.0,602.9 924.5,608.9 926.1,601.4 927.6,600.8 928.9,599.5 929.5,596.4 930.1,584.2 930.6,583.9 931.2,582.2 932.3,579.5 933.4,577.6 934.6,575.8 935.7,577.0 936.8,570.0 937.8,568.3 938.9,566.8 939.9,562.1 941.5,564.7 943.2,559.4 944.9,562.4 945.8,557.5 946.6,546.9 947.4,543.1 948.2,545.2 949.1,538.7 949.9,528.6 950.4,533.0 950.9,527.9 951.4,529.9 951.9,527.1 952.4,526.7 952.9,521.8 953.4,521.8 953.9,512.3 954.4,510.6 954.9,505.0 955.4,510.8 955.8,499.2 956.4,500.0 957.0,495.8 957.6,495.5 958.2,486.9 958.9,480.4 959.5,479.3 960.2,472.1 961.3,472.9 962.5,474.6 963.6,466.0 964.7,474.5 965.5,467.2 966.2,462.3 966.8,466.1 967.5,456.0 968.2,455.8 968.8,460.5 969.5,450.4 970.2,453.4 971.0,442.5 971.9,443.9 972.9,441.6 973.8,432.9 974.8,430.6 975.7,430.3 976.7,428.3 977.7,421.5 979.9,427.3 982.1,436.6 984.0,430.9 984.1,433.1 984.3,423.6 984.4,423.6 984.5,421.2 984.7,419.2 984.8,417.6 984.9,415.5 986.2,413.8 988.7,417.1 991.3,419.6 993.9,414.5 994.2,417.4 994.3,410.9 994.5,405.0 994.7,401.0 994.8,404.6 995.3,400.0 998.3,388.8 1001.3,393.2 1004.3,390.1 1006.1,393.7 1006.3,392.8 1006.5,390.7 1006.7,382.2 1006.9,377.9 1008.2,382.7 1011.0,385.6 1013.9,383.7 1016.7,380.5 1019.1,385.8 1019.5,384.9 1020.0,384.1 1020.4,377.0 1020.9,378.4 1021.3,369.2 1021.8,365.2 1022.4,363.2 1023.3,365.4 1024.2,364.4 1025.1,357.1 1026.0,357.2 1026.9,348.5 1027.9,355.2 1029.0,357.7 1030.0,361.0 1031.1,361.3 1032.1,369.3 1033.0,371.9 1033.3,368.6 1033.6,366.9 1033.9,360.8 1034.2,362.3 1034.5,356.2 1034.8,356.8 1036.1,348.7 1038.6,349.2 1041.0,342.9 1042.1,340.8 1042.3,347.4 1042.5,338.2 1042.7,331.6 1042.9,335.1 1044.5,336.7 1046.1,333.9 1046.4,333.7 1046.7,330.4 1047.1,322.5 1050.0,323.4 1053.0,318.7 1055.9,319.5 1056.2,320.7 1056.3,320.9 1056.5,307.7 1056.7,313.9 1056.8,310.4 1057.0,306.6 1058.7,298.2 1060.1,295.1 1060.3,299.9 1060.5,296.0 1060.7,290.2 1060.9,287.1 1061.9,281.5 1063.3,290.8 1064.2,286.9 1064.8,286.0 1065.3,281.1 1065.9,273.6 1066.5,274.5 1067.1,263.7 1067.6,265.7 1067.8,257.6 1068.0,256.2 1068.2,258.4 1068.4,250.2 1068.6,252.3 1068.8,245.8 1069.4,238.9 1070.0,235.0 1070.6,229.9 1071.1,234.2 1072.6,240.7 1074.3,238.6 1075.9,245.1 1076.8,249.1 1077.6,239.6 1078.3,243.0 1079.0,238.9 1079.8,232.4 1080.4,230.3 1081.0,219.8 1081.7,220.8 1082.3,219.4 1082.9,209.4 1083.6,203.3 1084.2,198.8 1085.0,196.1 1085.7,195.5 1086.8,205.8 1087.8,205.9 1088.8,210.7 1089.8,212.2 1090.9,215.5 1092.2,218.6 1093.6,219.1 1095.1,210.9 1096.6,211.8 1098.1,212.1 1099.5,213.7 1100.4,202.6 1101.0,200.1 1101.6,198.2 1102.2,189.5 1103.5,191.9 1105.9,195.3 1107.9,187.4 1109.4,186.8 1110.9,181.3 1112.3,185.5 1113.1,188.9 1113.7,182.2 1114.4,176.6 1115.1,175.8 1115.7,176.5 1116.4,176.2 1117.0,168.7 1117.6,166.3 1118.3,167.0 1118.9,156.2 1119.5,162.8 1120.1,154.2 1121.2,149.5 1123.3,153.2 1125.4,147.0 1127.6,149.1 1128.8,153.5 1128.9,161.3 1129.1,157.9 1129.2,164.9 1129.3,165.5 1129.5,172.1 1129.6,170.6 1129.7,180.8 1129.8,185.6 1130.0,181.8 1129.9,185.2 1129.7,190.8 1129.6,195.3 1129.4,190.6 1129.8,200.7 1130.5,205.6 1131.2,208.7 1131.8,208.0 1132.5,215.7 1133.1,215.9 1133.8,215.2 1134.4,219.7 1135.0,226.4 1135.3,229.0 1135.5,234.9 1135.7,237.0 1136.0,234.4 1136.2,239.5 1136.5,246.9 1136.7,246.3 1136.9,246.7 1137.2,257.8 1137.4,255.4 1138.2,253.1 1139.3,252.9 1140.4,247.2 1141.5,242.4 1142.7,242.9 1144.2,244.7 1145.7,242.5 1147.2,244.0 1148.8,251.9 1150.0,255.1 1150.1,258.5 1150.2,259.3 1150.2,268.3 1150.3,264.9 1150.4,266.1 1150.4,276.6 1150.5,280.1 1150.6,277.4 1151.4,279.8 1152.4,287.5 1153.4,294.5 1154.4,290.2 1154.9,296.4 1154.6,296.2 1154.4,304.5 1154.1,304.3 1153.9,306.3 1153.6,312.3 1153.4,313.8 1153.1,313.0 1153.6,315.7 1154.9,319.5 1156.2,314.4 1157.4,307.7 1158.7,305.9 1160.0,296.6 1161.5,295.8 1163.0,297.3 1164.5,285.5 1166.0,291.1 1167.5,286.5 1168.8,282.8 1169.2,282.1 1169.6,281.8 1169.9,287.0 1170.3,295.1 1170.7,294.7 1171.1,302.2 1171.4,298.8 1171.8,308.8 1172.2,312.4 1172.5,314.0 1172.9,311.4 1173.3,314.7 1173.7,316.1 1174.3,314.9 1175.0,320.2 1175.7,315.3 1176.5,316.3 1177.2,308.9 1177.9,307.5 1178.7,311.7 1179.4,310.8 1180.1,299.2 1180.9,308.4 1181.7,307.4 1182.5,302.7 1183.3,311.1 1184.1,308.8 1184.9,311.1 1185.5,315.4 1186.1,309.8 1186.7,299.1 1187.3,303.2 1187.8,292.6 1188.4,299.5 1189.0,293.2 1189.2,290.6 1189.4,280.7 1189.6,278.4 1189.9,280.4 1190.1,275.8 1190.3,277.9 1190.5,269.1 1190.7,267.6 1190.9,261.6 1191.1,263.1 1191.4,265.4 1191.6,254.8 1191.8,257.9 1192.0,248.0 1192.3,253.3 1192.5,246.3 1192.7,239.1 1192.9,243.7 1193.2,243.1 1194.0,238.3 1194.7,241.4 1195.4,245.8 1196.1,251.2 1196.9,258.6 1197.6,260.0 1198.3,256.4 1199.0,255.5 1199.8,264.3 1200.5,266.9 1201.1,261.1 1201.6,262.3 1202.2,263.7 1202.7,251.5 1203.3,250.5 1203.8,253.7 1204.3,243.1 1204.9,239.9 1205.1,237.4 1205.3,241.1 1205.5,230.8 1205.7,227.4 1205.8,230.3 1206.0,228.9 1206.2,225.7 1206.3,219.0 1206.5,221.4 1206.7,209.8 1206.8,210.0 1207.0,206.1 1207.2,205.1 1207.4,198.1 1207.8,194.5 1209.5,201.0 1211.2,192.0 1212.6,194.4 1213.2,202.7 1213.9,199.5 1214.5,203.8 1215.1,209.6 1215.8,207.2 1216.4,209.9 1217.0,219.9 1217.6,220.1 1218.2,218.5 1218.4,218.0 1218.7,219.6 1218.9,217.5 1219.2,211.7 1219.4,205.7 1219.7,209.7 1219.9,199.7 1220.2,202.8 1220.4,192.9 1220.7,198.6 1220.9,193.6 1221.2,187.4 1221.4,183.5 1221.6,182.0 1221.8,179.8 1222.0,175.6 1222.2,174.0 1222.4,164.0 1222.6,164.6 1222.8,165.3 1223.0,158.6 1223.2,161.5 1223.4,153.5 1223.6,147.9 1223.9,152.3 1224.6,149.5 1225.3,153.3 1226.1,156.8 1226.8,161.7 1227.5,156.8 1228.2,166.7 1229.0,165.8 1229.7,165.9 1230.7,165.2 1231.8,170.2 1232.9,167.5 1234.0,160.7 1235.1,156.2 1236.2,161.1 1237.3,148.2 1238.2,146.2 1239.0,148.7 1239.8,147.4 1240.6,138.5 1241.4,138.3 1242.2,134.9 1243.0,134.5 1243.8,131.4 1244.5,129.7 1244.8,133.0 1245.1,138.9 1245.5,139.2 1245.8,149.4 1246.1,148.3 1246.4,148.1 1246.8,157.1 1247.1,161.7 1247.4,159.9 1247.7,158.9 1248.1,169.2 1250.5,171.3 1253.2,169.6 1255.3,164.4 1256.3,159.8 1257.2,153.6 1258.2,149.1 1259.1,143.8 1260.1,149.2 1261.1,145.2 1261.5,144.8 1261.8,146.5 1262.1,151.9 1262.5,160.8 1262.8,158.3 1263.1,160.0 1263.4,167.3 1263.7,170.3 1264.1,178.0 1264.4,180.0 1264.7,182.6 1265.1,191.4 1265.9,187.2 1266.8,176.5 1267.6,175.1 1268.5,174.4 1269.4,167.8 1270.2,172.5 1271.1,168.8 1272.0,159.7 1272.6,165.2 1272.8,164.0 1273.1,163.0 1273.3,170.2 1273.6,173.5 1273.8,176.8 1274.1,182.4 1274.3,184.4 1274.6,181.5 1274.8,184.5 1275.2,180.8 1275.9,182.8 1276.5,177.6 1277.1,174.5 1277.8,179.8 1278.4,168.4 1279.0,167.1 1279.7,170.7 1280.3,166.9 1281.0,162.6 1281.8,167.1 1282.9,163.8 1284.0,166.4 1285.1,172.8 1286.2,170.4 1287.3,179.1 1288.4,184.1 1289.5,184.8 1290.6,188.4 1291.7,182.8 1292.7,188.7 1293.3,191.6 1294.0,188.4 1294.6,183.0 1295.3,180.5 1295.9,172.0 1296.6,167.8 1297.2,161.4 1297.9,166.6 1298.5,155.5 1299.2,159.3 1299.8,144.0 1301.1,154.2 1302.7,154.6 1304.3,152.6 1305.8,162.5 1307.4,165.6 1307.6,168.5 1307.7,171.5 1307.8,174.2 1307.9,178.3 1308.0,176.9 1308.2,186.4 1308.3,184.0 1308.4,184.6 1308.5,195.8 1308.6,190.8 1308.7,195.6 1309.4,198.1 1310.6,196.2 1311.7,187.7 1312.9,181.3 1314.0,184.2 1315.1,182.4 1315.4,187.5 1315.8,185.9 1316.1,195.8 1316.5,198.8 1316.8,203.4 1317.2,205.8 1317.5,208.5 1317.9,210.8 1318.2,217.8 1318.6,214.3 1318.9,222.8 1319.3,227.9 1319.6,231.3 1320.0,227.6 1320.6,226.1 1321.3,228.8 1322.0,222.8 1322.7,211.5 1323.4,210.9 1324.1,210.3 1324.7,206.6 1325.4,200.0 1326.1,193.3 1326.8,192.7 1327.5,188.6 1328.2,188.3 1328.9,185.2 1329.6,190.4 1330.1,190.1 1330.4,189.8 1330.7,197.3 1331.0,191.6 1331.3,194.7 1331.6,202.0 1331.9,203.7 1332.2,201.7 1332.5,213.1 1332.8,212.5 1333.1,214.9 1333.4,214.8 1333.7,220.0 1334.0,216.6 1334.3,221.8 1334.6,228.1 1334.9,230.3 1335.2,232.4 1335.5,230.2 1335.9,233.5 1336.5,238.4 1337.1,235.4 1337.7,231.5 1338.3,220.4 1338.9,217.9 1339.5,217.0 1340.1,221.3 1340.6,211.4 1341.2,208.8 1341.8,206.3 1342.1,214.0 1342.4,214.7 1342.6,221.4 1342.9,215.6 1343.1,218.4 1343.4,230.4 1343.6,225.1 1343.8,234.9 1344.1,236.7 1344.3,235.3 1344.6,238.9 1344.8,247.3 1345.1,242.2 1345.3,255.5 1345.6,248.1 1345.8,252.3 1346.1,260.5 1346.3,257.5 1346.6,270.3 1346.9,266.8 1348.1,260.5 1349.7,258.1 1351.2,260.5 1352.7,262.8 1354.2,254.5 1354.9,256.7 1354.6,261.4 1354.4,265.1 1354.1,268.8 1353.8,267.1 1353.6,270.4 1353.3,278.8 1353.1,282.0 1352.8,279.3 1352.5,288.6 1353.6,278.1 1354.9,283.7 1356.1,282.1 1357.4,275.5 1358.7,274.3 1360.0,264.5 1361.2,270.0 1361.1,271.1 1361.0,273.0 1360.9,276.0 1360.8,274.4 1360.7,285.2 1360.5,284.6 1360.4,288.6 1360.3,286.7 1360.2,294.9 1360.1,293.6 1361.0,301.7 1362.8,294.9 1364.6,297.5 1366.4,302.0 1368.0,308.2 1369.1,317.3 1370.3,310.8 1371.5,318.2 1372.7,313.6 1373.9,318.6 1375.0,319.0 1375.4,320.5 1375.8,327.1 1376.1,328.5 1376.5,330.6 1376.9,337.6 1377.2,336.4 1378.5,346.7 1381.5,339.3 1384.5,348.7 1386.4,338.4 1386.9,344.4 1387.4,331.5 1387.9,327.9 1388.4,326.0 1388.9,329.9 1389.4,321.6 1389.9,319.2 1390.7,320.5 1391.6,310.1 1392.4,312.6 1393.3,307.8 1394.2,301.9 1395.0,307.5 1395.5,305.1 1396.0,308.1 1396.6,316.4 1397.1,322.0 1397.6,318.7 1398.1,321.3 1398.6,334.5 1399.1,332.3 1399.6,337.3 1400.5,338.6 1402.6,340.2 1404.8,333.2 1406.9,331.6 1408.0,328.7 1408.6,325.6 1409.3,332.3 1409.9,338.1 1410.6,337.6 1411.2,339.3 1411.9,338.5 1412.5,349.3 1413.6,343.6 1414.6,340.6 1415.7,338.4 1416.7,335.8 1417.8,331.7 1418.8,328.1 1419.9,326.8 1420.6,319.5 1421.2,318.9 1421.8,318.7 1422.5,321.1 1423.1,313.3 1423.7,312.1 1424.4,318.8 1425.0,321.1 1425.7,322.7 1426.3,324.3 1427.0,326.7 1427.6,324.8 1428.3,326.9 1428.9,328.7 1429.5,331.8 1430.1,340.5 1430.7,343.6 1431.3,340.4 1431.8,352.7 1432.4,351.5 1433.0,355.8 1433.6,353.8 1434.8,361.9 1436.1,351.6 1437.5,351.7 1438.8,353.1 1440.1,351.8 1441.3,349.1 1441.4,356.4 1441.6,349.1 1441.8,359.1 1441.9,359.1 1442.1,366.2 1442.3,367.4 1442.4,371.8 1443.9,373.0 1446.0,373.5 1448.1,369.6 1450.1,377.5 1450.6,383.0 1451.0,385.9 1451.5,390.5 1452.0,387.7 1452.5,386.0 1453.0,397.0 1453.5,394.8 1454.0,402.0 1454.5,398.1 1455.0,404.4 1455.5,410.7 1456.0,408.1 1456.5,413.4 1457.0,414.6 1457.5,426.1 1457.7,427.9 1458.0,429.4 1458.2,431.2 1458.5,439.4 1458.7,434.4 1459.0,442.5 1459.2,438.6 1459.5,447.7 1459.7,446.0 1460.0,446.9 1460.4,454.2 1460.9,443.3 1461.4,447.6 1461.9,440.4 1462.4,436.6 1462.9,432.9 1463.4,432.7 1463.9,420.4 1464.4,425.2 1464.9,414.0 1465.4,408.9 1465.9,416.0 1466.4,404.5 1466.8,406.6 1467.3,408.4 1467.8,403.9 1468.3,412.6 1468.8,415.4 1469.3,419.7 1469.8,417.4 1470.3,427.0 1470.8,431.7 1471.3,427.0 1471.8,439.4 1472.3,442.5 1473.2,438.6 1474.6,449.1 1475.9,451.1 1477.2,443.5 1478.6,452.2 1479.9,456.3 1481.1,456.6 1482.3,450.8 1483.5,455.8 1484.7,459.5 1485.8,460.5 1487.0,464.5 1488.2,465.0 1489.4,467.8 1490.6,474.5 1491.8,478.7 1492.9,483.3 1494.1,490.4 1495.6,482.3 1498.1,483.2 1500.6,486.5 1502.4,483.4 1501.9,478.9 1501.4,488.8 1500.9,485.7 1500.4,498.9 1499.9,494.6 1499.4,501.5 1498.9,503.0 1500.3,502.9 1502.7,495.0 1505.2,492.6 1507.6,494.5 1510.0,500.9 1512.4,496.9 1511.9,501.6 1511.2,504.0 1510.6,508.4 1509.9,514.7 1509.3,511.4 1508.6,513.3 1508.0,515.7 1507.9,517.7 1509.2,521.4 1510.6,523.6 1511.9,529.5 1513.3,528.9 1514.6,536.1 1516.3,536.3 1518.1,530.7 1519.9,526.0 1521.7,517.7 1522.8,516.6 1523.4,521.6 1523.9,528.9 1524.5,527.1 1525.0,529.9 1525.6,542.3 1526.1,537.3 1526.5,536.5 1526.8,544.1 1527.2,548.8 1527.5,548.7 1527.8,547.6 1528.2,554.4 1528.5,552.0 1529.1,560.5 1530.8,561.1 1532.6,552.2 1534.3,559.3 1536.0,561.0 1537.4,556.5 1536.8,554.1 1536.3,556.4 1535.7,564.0 1535.1,562.5 1534.5,573.3 1533.9,571.3 1533.3,570.8 1532.7,577.6 1534.3,575.4 1537.2,578.6 1540.1,576.7 1542.4,571.2 1541.8,582.2 1541.2,584.3 1540.6,581.8 1540.0,587.6 1542.8,585.3 1545.8,591.7 1547.5,590.4 1547.5,596.6 1547.5,597.6 1547.5,600.8 1547.5,598.4 1547.5,607.5 1547.5,604.7 1547.5,613.2 1547.5,614.9 1547.5,615.7 1548.0,614.9 1549.1,622.8 1550.2,625.9 1551.3,627.9 1552.4,622.3 1553.1,626.4 1553.8,632.0 1554.4,637.3 1555.1,632.6 1555.7,643.2 1556.4,647.1 1557.0,640.3 1557.8,649.0 1558.8,642.8 1559.9,637.4 1560.9,635.4 1562.0,634.0 1563.1,627.2 1564.1,631.9 1565.0,627.1 1564.7,628.9 1564.4,637.8 1564.1,641.9 1563.8,639.2 1563.5,640.6 1563.2,646.9 1562.9,647.7 1562.6,656.2 1564.4,651.2 1566.8,652.5 1569.2,654.9 1571.7,657.2 1574.1,655.3 1576.3,667.1 1576.8,662.4 1577.3,659.2 1577.8,661.3 1578.3,655.5 1578.8,654.4 1579.3,646.2 1579.8,645.6 1580.2,646.5 1580.7,645.6 1581.2,635.9 1581.7,634.4 1582.2,629.0 1582.7,628.2 1583.1,634.0 1583.6,640.4 1584.0,643.6 1584.5,641.5 1584.9,637.9 1585.4,643.6 1585.8,650.9 1586.3,656.8 1588.9,649.4 1591.5,657.4 1594.1,657.5 1595.3,646.9 1595.7,653.7 1596.2,647.8 1596.6,648.2 1597.1,643.9 1597.5,641.6 1598.0,641.4 1598.4,637.8 1599.0,631.7 1600.2,630.0 1601.5,634.2 1602.7,623.9 1603.8,623.4 1604.2,623.9 1604.6,629.2 1604.9,635.0 1605.3,633.5 1605.7,638.9 1606.1,643.8 1606.5,644.1 1606.9,651.1 1607.3,651.2 1607.6,651.8 1608.0,659.2 1608.4,660.0 1608.9,661.1 1610.2,654.5 1611.6,660.0 1612.9,647.0 1614.2,645.5 1615.6,645.1 1616.9,648.0 1617.7,642.4 1618.1,643.8 1618.5,653.9 1618.9,660.1 1619.3,657.9 1619.7,667.5 1620.1,663.1 1620.5,671.8 1620.9,664.3 1621.3,674.3 1621.7,679.0 1622.1,674.6 1622.5,683.4 1623.9,676.2 1625.4,669.5 1626.9,666.1 1628.4,672.7 1629.9,669.2 1631.4,667.9 1633.1,660.7 1635.6,655.5 1638.1,653.1 1640.2,657.5 1640.9,655.0 1641.6,660.2 1642.4,666.8 1643.1,666.5 1643.8,672.0 1644.5,674.6 1645.2,681.9 1645.6,680.8 1646.1,682.5 1646.5,693.5 1646.9,687.4 1647.4,695.8 1647.8,698.7 1648.3,698.7 1648.7,706.2 1650.5,704.2 1652.3,697.2 1654.1,691.5 1655.9,687.2 1657.5,696.2 1657.7,700.6 1657.8,695.9 1658.0,699.6 1658.1,706.4 1658.3,711.1 1658.5,715.1 1658.6,717.4 1658.8,719.7 1659.1,722.4 1659.4,719.0 1659.8,727.8 1660.1,733.4 1660.4,731.5 1660.8,733.5 1661.1,738.1 1661.9,738.5 1663.0,728.7 1664.2,733.1 1665.3,729.4 1666.4,722.3 1667.5,721.0 1668.7,718.6 1669.8,719.7 1670.3,728.0 1670.6,724.6 1671.0,733.5 1671.3,728.1 1671.7,731.7 1672.0,737.6 1672.4,736.5 1672.9,739.0 1673.7,748.1 1674.4,747.2 1675.1,753.8 1675.9,750.2 1676.6,752.7 1677.3,761.1 1678.2,754.8 1679.2,745.2 1680.1,744.4 1681.1,739.1 1682.0,737.1 1682.9,741.0 1683.9,734.2 1684.8,733.7 1686.5,728.7 1688.3,725.4 1688.8,730.4 1689.0,730.2 1689.1,734.7 1689.2,739.0 1689.3,739.2 1689.4,741.5 1689.5,744.5 1689.6,756.3 1689.8,752.6 1689.9,756.7 1690.0,763.0 1690.3,766.6 1690.6,768.8 1690.9,774.3 1691.2,773.6 1691.5,772.7 1691.8,781.0 1692.1,782.5 1692.4,790.1 1693.1,784.1 1694.3,787.5 1695.6,777.6 1696.8,778.5 1698.0,774.8 1699.2,768.6 1700.4,773.6 1701.4,772.1 1702.1,768.5 1702.7,776.5 1703.4,781.4 1704.0,780.6 1704.7,781.0 1705.3,787.7 1706.0,788.1 1706.5,793.5 1707.0,797.9 1707.4,797.2 1707.8,804.8 1708.3,806.4 1708.7,810.8 1709.2,810.8 1709.6,819.3 1710.3,815.4 1712.1,818.1 1713.9,817.7 1715.7,812.8 1717.5,826.1 1718.2,821.4 1718.9,813.9 1719.7,820.5 1720.4,816.2 1721.1,815.2 1721.9,809.3 1722.6,804.0 1723.3,804.0 1723.9,798.2 1724.4,801.8 1724.8,803.6 1725.3,806.0 1725.7,815.6 1726.2,813.4 1726.6,816.1 1727.0,817.3 1727.5,819.4 1728.1,820.8 1728.8,831.4 1729.4,831.5 1730.1,831.3 1730.7,836.6 1731.4,843.3 1732.0,842.0 1732.7,845.1 1733.6,851.5 1734.4,855.5 1735.2,863.5 1736.0,866.7 1736.9,868.8 1737.7,869.5 1738.4,870.2 1739.1,868.9 1739.8,880.0 1740.6,882.4 1741.3,882.1 1742.0,888.2 1742.8,893.3 1743.9,890.2 1744.9,896.8 1745.9,903.5 1746.9,897.3 1747.9,898.7 1749.0,908.9 1750.8,904.6 1752.5,891.7 1754.2,894.3 1754.8,895.4 1754.5,899.4 1754.1,901.4 1753.7,904.0 1753.4,907.7 1753.0,911.0 1752.7,908.3 1753.3,911.6 1755.1,914.3 1756.9,926.6 1758.7,926.4 1760.2,930.5 1761.0,930.1 1761.8,915.8 1762.6,912.4 1763.4,909.0 1764.2,911.7 1765.0,905.0 1765.8,895.4 1766.6,894.5 1767.3,898.5 1768.1,909.6 1768.8,906.9 1769.5,914.7 1770.2,917.7 1771.0,923.1 1771.4,921.8 1771.5,922.1 1771.7,928.0 1771.9,935.5 1772.0,939.4 1772.2,936.5 1772.4,940.7 1772.6,947.5 1773.0,946.7 1773.5,948.7 1774.0,952.8 1774.5,958.8 1775.0,959.8 1775.5,968.2 1776.0,969.7 1777.3,972.1 1779.4,966.1 1781.2,960.9 1781.2,960.9 1781.2,964.5 1781.2,974.8 1781.2,975.0 1781.2,972.0 1781.2,979.4 1782.7,984.0 1785.7,985.2 1788.7,989.0 1789.0,993.1 1789.2,991.5 1789.4,996.8 1789.6,993.4 1789.8,1003.2 1790.4,1004.1 1793.1,998.4 1795.9,998.8 1797.7,1008.1 1798.2,1006.3 1798.7,1011.2 1799.3,1015.2 1799.8,1023.0 1800.9,1019.2 1802.7,1019.4 1804.4,1022.1 1806.2,1029.2 1807.9,1023.3 1809.6,1030.0 1811.4,1030.9 1813.2,1030.8 1815.2,1031.9 1817.2,1037.0 1819.1,1035.0 1821.1,1042.0 1823.1,1048.2 1825.1,1050.4 1827.0,1054.3 1829.0,1052.1 1830.6,1050.8 1831.7,1053.6 1832.9,1057.9 1834.0,1063.4 1835.2,1067.1 1836.3,1067.2 1837.5,1066.0 1838.7,1074.5 1839.8,1080.4 1841.0,1076.3 1842.1,1083.2 1844.2,1084.4 1846.7,1089.9 1849.2,1083.8 1851.7,1093.9 1854.2,1093.5 1856.6,1096.1 1858.4,1093.8 1859.7,1095.0 1861.1,1096.1 1862.4,1108.3 1863.8,1107.7 1865.1,1111.9 1866.4,1114.6 1867.8,1114.7 1869.4,1117.2 1871.0,1118.2 1872.6,1125.3 1874.2,1125.7 1875.8,1123.8 1877.4,1133.3 1879.0,1131.6 1880.5,1139.4 1882.1,1142.8 1883.7,1138.8 1885.3,1139.9 1886.9,1148.3 1888.5,1150.7 1890.1,1156.5 1891.7,1152.3 1893.4,1154.1 1895.3,1155.1 1897.3,1158.2 1899.2,1157.2 1901.1,1163.2 1903.0,1161.8 1904.9,1166.8 1907.1,1169.5 1909.2,1168.8 1911.3,1175.2 1913.4,1179.5 1915.6,1177.4 1917.7,1180.1 1919.8,1181.0 1921.1,1187.7 1922.3,1189.6 1923.5,1193.1 1924.8,1192.0 1926.0,1195.5 1927.2,1197.7 1928.4,1202.3 1929.6,1211.9 1931.0,1211.5 1932.5,1211.7 1934.0,1211.0 1935.5,1217.5 1937.0,1215.6 1938.5,1222.5 1940.0,1225.5 1941.7,1228.0 1943.4,1229.7 1945.2,1231.1 1946.9,1233.1 1948.7,1235.1 1950.4,1239.9 1952.2,1239.8 1953.7,1244.1 1955.2,1250.1 1956.7,1253.4 1958.2,1255.1 1959.7,1254.9 1961.1,1260.9 1962.6,1263.4 1963.8,1263.2 1965.0,1265.1 1966.2,1267.2 1967.3,1270.6 1968.5,1271.0 1969.7,1273.1 1970.8,1280.2 1971.8,1281.9 1972.9,1285.6 1973.9,1288.4 1975.0,1291.0 1976.0,1293.1 1977.1,1295.1 1977.8,1300.0 1978.2,1303.0 1978.6,1306.3 1979.0,1309.0 1979.5,1308.8 1979.9,1311.1 1981.0,1316.3 1982.3,1318.0 1983.7,1323.0 1985.0,1324.6 1986.3,1327.3 1987.9,1329.9 1990.6,1331.2 1993.2,1333.8 1995.9,1334.4 1998.7,1336.9 2001.4,1335.1 2004.2,1333.8 2007.0,1332.6 2009.8,1330.4 2012.7,1332.3 2015.6,1333.1 2018.5,1333.1 2021.4,1331.8 2024.3,1332.4 2027.2,1331.4 2030.0,1330.9 2032.9,1329.6 2035.8,1329.0 2038.6,1328.6 2041.5,1329.8 2044.4,1333.3 2047.0,1334.8 2049.6,1335.0 2052.2,1336.0 2054.7,1338.1 2057.3,1339.0 2060.2,1341.1 2063.2,1341.0 2066.1,1342.1 2069.0,1343.2 2071.9,1342.6 2074.9,1344.7 2077.8,1344.6 2080.7,1344.3 2083.5,1345.0 2086.3,1346.9 2089.1,1346.6 2091.9,1348.1 2094.7,1349.5 2097.5,1351.0 2100.4,1354.8 2103.3,1353.8 2106.2,1355.0 2109.1,1356.5 2112.0,1355.6 2114.9,1355.5 2117.8,1357.5 2120.7,1356.9 2123.7,1359.0 2126.6,1360.1 2129.5,1358.7 2132.4,1360.7 2135.2,1361.8 2138.1,1361.4 2141.0,1361.5 2143.9,1363.6 2146.7,1364.5 2149.6,1365.8 2152.5,1366.3 2155.4,1367.9 2158.3,1368.2 2161.2,1368.8 2164.2,1369.6 2167.1,1369.6 2170.1,1371.3 2173.0,1371.3 2175.9,1371.5 2178.9,1372.3 2181.8,1372.0 2184.8,1374.3 2187.8,1373.8 2190.7,1374.3 2193.7,1374.8 2196.2,1376.2 2198.3,1378.3 2200.0,1380.6 2200.0,1383.6 2200.0,1386.6 2200.0,1389.0 2200.0,1395.2" stroke="#28a745" stroke-width="12.5" stroke-linecap="butt"/>
<polyline points="642.2,1274.8 643.8,1269.1 645.4,1268.6 647.0,1267.7 648.6,1265.6 650.2,1263.5 651.8,1260.4 653.3,1257.6 654.7,1250.0 656.2,1251.9 657.6,1246.2 659.0,1244.0 660.4,1242.3 661.9,1242.1 663.3,1237.4 664.7,1233.3 666.1,1231.1 667.5,1231.9 669.0,1229.3 670.4,1223.0 671.9,1220.5 673.4,1218.1 674.9,1214.1 676.4,1213.6 677.9,1209.1 679.3,1208.8 680.8,1208.8 682.3,1206.1 683.8,1199.3 685.3,1197.6 686.8,1195.8 688.3,1194.1 689.8,1189.2 691.2,1186.3 692.6,1185.3 694.0,1182.6 695.5,1184.7 696.9,1179.5 698.3,1173.4 699.7,1171.4 701.1,1168.1 702.6,1166.6 704.0,1164.0 705.4,1162.9 706.8,1163.3 708.1,1158.5 709.3,1155.5 710.4,1147.0 711.6,1147.2 712.7,1143.3 713.9,1138.4 715.0,1138.0 716.2,1133.0 717.3,1131.9 718.5,1134.1 719.7,1130.8 720.9,1128.2 722.1,1120.1 723.4,1117.8 724.6,1113.6 725.8,1111.3 727.1,1108.3 728.3,1112.8 729.6,1109.3 730.8,1099.8 732.0,1096.5 733.2,1099.2 734.4,1092.1 735.5,1087.0 736.7,1085.3 737.8,1080.9 739.0,1081.2 740.2,1080.1 741.3,1076.7 742.5,1078.2 743.6,1070.0 744.8,1073.3 745.9,1074.3 746.9,1062.9 748.0,1063.1 749.1,1061.2 750.1,1055.2 751.2,1059.1 752.2,1051.8 753.1,1049.2 754.0,1051.0 754.9,1039.3 755.8,1045.8 756.7,1035.7 757.6,1036.0 758.5,1034.8 759.6,1032.5 760.8,1024.8 762.0,1024.4 763.2,1021.4 764.4,1024.6 765.6,1020.2 766.8,1012.1 767.9,1011.7 768.7,1006.8 769.6,997.2 770.5,991.2 771.4,994.3 772.3,988.8 774.7,985.6 777.7,998.1 780.7,998.5 783.3,990.5 785.4,988.6 787.6,990.6 789.7,994.8 791.8,988.0 794.2,987.3 796.6,981.2 799.1,979.1 801.5,979.0 804.0,972.0 806.4,968.2 808.7,971.9 811.0,973.9 812.8,963.4 813.6,965.9 814.4,959.9 815.2,955.5 816.0,955.6 816.8,943.8 817.6,942.5 818.4,948.1 819.1,945.4 819.6,933.4 820.2,938.5 820.7,927.2 821.3,925.8 821.8,922.7 822.4,922.0 822.9,920.3 823.4,923.4 823.9,915.3 824.4,909.0 824.9,907.9 825.6,902.4 826.4,900.2 827.2,902.4 828.0,900.9 828.8,895.6 829.6,894.6 830.4,888.7 831.2,891.6 831.9,885.2 832.6,879.3 833.4,879.8 834.1,873.2 834.8,870.8 835.6,865.5 836.3,869.4 837.0,860.2 837.7,864.4 838.3,854.8 839.0,848.5 839.6,851.3 840.2,848.5 840.8,847.5 841.5,836.4 842.3,841.3 843.1,839.6 843.9,830.8 844.8,830.0 845.6,829.1 846.4,821.9 847.2,826.1 847.9,821.2 848.5,820.0 849.2,812.5 849.8,810.3 850.5,803.7 851.1,802.0 851.8,803.8 852.4,803.4 853.3,791.4 854.1,787.3 855.0,784.6 855.9,785.6 856.7,786.5 857.6,776.9 858.4,776.6 859.3,773.9 860.1,774.5 860.7,764.3 861.2,760.0 861.8,762.9 862.3,758.5 862.9,755.2 863.4,758.0 863.9,754.3 864.3,744.8 864.6,747.2 865.0,747.2 865.4,745.6 865.8,732.4 866.1,738.5 868.0,728.1 870.7,734.4 873.3,733.9 875.4,737.3 876.8,731.1 878.1,722.1 879.5,726.3 880.8,718.5 881.9,721.5 882.9,709.0 883.9,708.9 885.0,709.4 886.0,700.5 887.0,703.1 888.0,700.7 888.9,698.1 889.9,696.7 890.8,689.3 891.7,684.0 892.9,683.4 894.8,683.9 896.6,678.3 898.5,683.8 900.4,674.4 902.3,671.1 903.4,677.6 904.5,672.9 905.6,663.8 906.6,662.3 907.7,665.2 908.7,660.4 909.6,653.8 910.5,653.2 911.3,655.2 912.2,643.0 913.0,651.5 913.9,644.1 914.7,637.2 915.4,640.4 916.1,628.0 916.7,627.5 917.4,625.1 918.1,617.2 918.7,620.1 919.4,613.8 920.0,603.5 921.5,603.7 923.0,602.9 924.5,608.9 926.1,601.4 927.6,600.8 928.9,599.5 929.5,596.4 930.1,584.2 930.6,583.9 931.2,582.2 932.3,579.5 933.4,577.6 934.6,575.8 935.7,577.0 936.8,570.0 937.8,568.3 938.9,566.8 939.9,562.1 941.5,564.7 943.2,559.4 944.9,562.4 945.8,557.5 946.6,546.9 947.4,543.1 948.2,545.2 949.1,538.7 949.9,528.6 950.4,533.0 950.9,527.9 951.4,529.9 951.9,527.1 952.4,526.7 952.9,521.8 953.4,521.8 953.9,512.3 954.4,510.6 954.9,505.0 955.4,510.8 955.8,499.2 956.4,500.0 957.0,495.8 957.6,495.5 958.2,486.9 958.9,480.4 959.5,479.3 960.2,472.1 961.3,472.9 962.5,474.6 963.6,466.0 964.7,474.5 965.5,467.2 966.2,462.3 966.8,466.1 967.5,456.0 968.2,455.8 968.8,460.5 969.5,450.4 970.2,453.4 971.0,442.5 971.9,443.9 972.9,441.6 973.8,432.9 974.8,430.6 975.7,430.3 976.7,428.3 977.7,421.5 979.9,427.3 982.1,436.6 984.0,430.9 984.1,433.1 984.3,423.6 984.4,423.6 984.5,421.2 984.7,419.2 984.8,417.6 984.9,415.5 986.2,413.8 988.7,417.1 991.3,419.6 993.9,414.5 994.2,417.4 994.3,410.9 994.5,405.0 994.7,401.0 994.8,404.6 995.3,400.0 998.3,388.8 1001.3,393.2 1004.3,390.1 1006.1,393.7 1006.3,392.8 1006.5,390.7 1006.7,382.2 1006.9,377.9 1008.2,382.7 1011.0,385.6 1013.9,383.7 1016.7,380.5 1019.1,385.8 1019.5,384.9 1020.0,384.1 1020.4,377.0 1020.9,378.4 1021.3,369.2 1021.8,365.2 1022.4,363.2 1023.3,365.4 1024.2,364.4 1025.1,357.1 1026.0,357.2 1026.9,348.5 1027.9,355.2 1029.0,357.7 1030.0,361.0 1031.1,361.3 1032.1,369.3 1033.0,371.9 1033.3,368.6 1033.6,366.9 1033.9,360.8 1034.2,362.3 1034.5,356.2 1034.8,356.8 1036.1,348.7 1038.6,349.2 1041.0,342.9 1042.1,340.8 1042.3,347.4 1042.5,338.2 1042.7,331.6 1042.9,335.1 1044.5,336.7 1046.1,333.9 1046.4,333.7 1046.7,330.4 1047.1,322.5 1050.0,323.4 1053.0,318.7 1055.9,319.5 1056.2,320.7 1056.3,320.9 1056.5,307.7 1056.7,313.9 1056.8,310.4 1057.0,306.6 1058.7,298.2 1060.1,295.1 1060.3,299.9 1060.5,296.0 1060.7,290.2 1060.9,287.1 1061.9,281.5 1063.3,290.8 1064.2,286.9 1064.8,286.0 1065.3,281.1 1065.9,273.6 1066.5,274.5 1067.1,263.7 1067.6,265.7 1067.8,257.6 1068.0,256.2 1068.2,258.4 1068.4,250.2 1068.6,252.3 1068.8,245.8 1069.4,238.9 1070.0,235.0 1070.6,229.9 1071.1,234.2 1072.6,240.7 1074.3,238.6 1075.9,245.1 1076.8,249.1 1077.6,239.6 1078.3,243.0 1079.0,238.9 1079.8,232.4 1080.4,230.3 1081.0,219.8 1081.7,220.8 1082.3,219.4 1082.9,209.4 1083.6,203.3 1084.2,198.8 1085.0,196.1 1085.7,195.5 1086.8,205.8 1087.8,205.9 1088.8,210.7 1089.8,212.2 1090.9,215.5 1092.2,218.6 1093.6,219.1 1095.1,210.9 1096.6,211.8 1098.1,212.1 1099.5,213.7 1100.4,202.6 1101.0,200.1 1101.6,198.2 1102.2,189.5 1103.5,191.9 1105.9,195.3 1107.9,187.4 1109.4,186.8 1110.9,181.3 1112.3,185.5 1113.1,188.9 1113.7,182.2 1114.4,176.6 1115.1,175.8 1115.7,176.5 1116.4,176.2 1117.0,168.7 1117.6,166.3 1118.3,167.0 1118.9,156.2 1119.5,162.8 1120.1,154.2 1121.2,149.5 1123.3,153.2 1125.4,147.0 1127.6,149.1 1128.8,153.5 1128.9,161.3 1129.1,157.9 1129.2,164.9 1129.3,165.5 1129.5,172.1 1129.6,170.6 1129.7,180.8 1129.8,185.6 1130.0,181.8 1129.9,185.2 1129.7,190.8 1129.6,195.3 1129.4,190.6 1129.8,200.7 1130.5,205.6 1131.2,208.7 1131.8,208.0 1132.5,215.7 1133.1,215.9 1133.8,215.2 1134.4,219.7 1135.0,226.4 1135.3,229.0 1135.5,234.9 1135.7,237.0 1136.0,234.4 1136.2,239.5 1136.5,246.9 1136.7,246.3 1136.9,246.7 1137.2,257.8 1137.4,255.4 1138.2,253.1 1139.3,252.9 1140.4,247.2 1141.5,242.4 1142.7,242.9 1144.2,244.7 1145.7,242.5 1147.2,244.0 1148.8,251.9 1150.0,255.1 1150.1,258.5 1150.2,259.3 1150.2,268.3 1150.3,264.9 1150.4,266.1 1150.4,276.6 1150.5,280.1 1150.6,277.4 1151.4,279.8 1152.4,287.5 1153.4,294.5 1154.4,290.2 1154.9,296.4 1154.6,296.2 1154.4,304.5 1154.1,304.3 1153.9,306.3 1153.6,312.3 1153.4,313.8 1153.1,313.0 1153.6,315.7 1154.9,319.5 1156.2,314.4 1157.4,307.7 1158.7,305.9 1160.0,296.6 1161.5,295.8 1163.0,297.3 1164.5,285.5 1166.0,291.1 1167.5,286.5 1168.8,282.8 1169.2,282.1 1169.6,281.8 1169.9,287.0 1170.3,295.1 1170.7,294.7 1171.1,302.2 1171.4,298.8 1171.8,308.8 1172.2,312.4 1172.5,314.0 1172.9,311.4 1173.3,314.7 1173.7,316.1 1174.3,314.9 1175.0,320.2 1175.7,315.3 1176.5,316.3 1177.2,308.9 1177.9,307.5 1178.7,311.7 1179.4,310.8 1180.1,299.2 1180.9,308.4 1181.7,307.4 1182.5,302.7 1183.3,311.1 1184.1,308.8 1184.9,311.1 1185.5,315.4 1186.1,309.8 1186.7,299.1 1187.3,303.2 1187.8,292.6 1188.4,299.5 1189.0,293.2 1189.2,290.6 1189.4,280.7 1189.6,278.4 1189.9,280.4 1190.1,275.8 1190.3,277.9 1190.5,269.1 1190.7,267.6 1190.9,261.6 1191.1,263.1 1191.4,265.4 1191.6,254.8 1191.8,257.9 1192.0,248.0 1192.3,253.3 1192.5,246.3 1192.7,239.1 1192.9,243.7 1193.2,243.1 1194.0,238.3 1194.7,241.4 1195.4,245.8 1196.1,251.2 1196.9,258.6 1197.6,260.0 1198.3,256.4 1199.0,255.5 1199.8,264.3 1200.5,266.9 1201.1,261.1 1201.6,262.3 1202.2,263.7 1202.7,251.5 1203.3,250.5 1203.8,253.7 1204.3,243.1 1204.9,239.9 1205.1,237.4 1205.3,241.1 1205.5,230.8 1205.7,227.4 1205.8,230.3 1206.0,228.9 1206.2,225.7 1206.3,219.0 1206.5,221.4 1206.7,209.8 1206.8,210.0 1207.0,206.1 1207.2,205.1 1207.4,198.1 1207.8,194.5 1209.5,201.0 1211.2,192.0 1212.6,194.4 1213.2,202.7 1213.9,199.5 1214.5,203.8 1215.1,209.6 1215.8,207.2 1216.4,209.9 1217.0,219.9 1217.6,220.1 1218.2,218.5 1218.4,218.0 1218.7,219.6 1218.9,217.5 1219.2,211.7 1219.4,205.7 1219.7,209.7 1219.9,199.7 1220.2,202.8 1220.4,192.9 1220.7,198.6 1220.9,193.6 1221.2,187.4 1221.4,183.5 1221.6,182.0 1221.8,179.8 1222.0,175.6 1222.2,174.0 1222.4,164.0 1222.6,164.6 1222.8,165.3 1223.0,158.6 1223.2,161.5 1223.4,153.5 1223.6,147.9 1223.9,152.3 1224.6,149.5 1225.3,153.3 1226.1,156.8 1226.8,161.7 1227.5,156.8 1228.2,166.7 1229.0,165.8 1229.7,165.9 1230.7,165.2 1231.8,170.2 1232.9,167.5 1234.0,160.7 1235.1,156.2 1236.2,161.1 1237.3,148.2 1238.2,146.2 1239.0,148.7 1239.8,147.4 1240.6,138.5 1241.4,138.3 1242.2,134.9 1243.0,134.5 1243.8,131.4 1244.5,129.7 1244.8,133.0 1245.1,138.9 1245.5,139.2 1245.8,149.4 1246.1,148.3 1246.4,148.1 1246.8,157.1 1247.1,161.7 1247.4,159.9 1247.7,158.9 1248.1,169.2 1250.5,171.3 1253.2,169.6 1255.3,164.4 1256.3,159.8 1257.2,153.6 1258.2,149.1 1259.1,143.8 1260.1,149.2 1261.1,145.2 1261.5,144.8 1261.8,146.5 1262.1,151.9 1262.5,160.8 1262.8,158.3 1263.1,160.0 1263.4,167.3 1263.7,170.3 1264.1,178.0 1264.4,180.0 1264.7,182.6 1265.1,191.4 1265.9,187.2 1266.8,176.5 1267.6,175.1 1268.5,174.4 1269.4,167.8 1270.2,172.5 1271.1,168.8 1272.0,159.7 1272.6,165.2 1272.8,164.0 1273.1,163.0 1273.3,170.2 1273.6,173.5 1273.8,176.8 1274.1,182.4 1274.3,184.4 1274.6,181.5 1274.8,184.5 1275.2,180.8 1275.9,182.8 1276.5,177.6 1277.1,174.5 1277.8,179.8 1278.4,168.4 1279.0,167.1 1279.7,170.7 1280.3,166.9 1281.0,162.6 1281.8,167.1 1282.9,163.8 1284.0,166.4 1285.1,172.8 1286.2,170.4 1287.3,179.1 1288.4,184.1 1289.5,184.8 1290.6,188.4 1291.7,182.8 1292.7,188.7 1293.3,191.6 1294.0,188.4 1294.6,183.0 1295.3,180.5 1295.9,172.0 1296.6,167.8 1297.2,161.4 1297.9,166.6 1298.5,155.5 1299.2,159.3 1299.8,144.0 1301.1,154.2 1302.7,154.6 1304.3,152.6 1305.8,162.5 1307.4,165.6 1307.6,168.5 1307.7,171.5 1307.8,174.2 1307.9,178.3 1308.0,176.9 1308.2,186.4 1308.3,184.0 1308.4,184.6 1308.5,195.8 1308.6,190.8 1308.7,195.6 1309.4,198.1 1310.6,196.2 1311.7,187.7 1312.9,181.3 1314.0,184.2 1315.1,182.4 1315.4,187.5 1315.8,185.9 1316.1,195.8 1316.5,198.8 1316.8,203.4 1317.2,205.8 1317.5,208.5 1317.9,210.8 1318.2,217.8 1318.6,214.3 1318.9,222.8 1319.3,227.9 1319.6,231.3 1320.0,227.6 1320.6,226.1 1321.3,228.8 1322.0,222.8 1322.7,211.5 1323.4,210.9 1324.1,210.3 1324.7,206.6 1325.4,200.0 1326.1,193.3 1326.8,192.7 1327.5,188.6 1328.2,188.3 1328.9,185.2 1329.6,190.4 1330.1,190.1 1330.4,189.8 1330.7,197.3 1331.0,191.6 1331.3,194.7 1331.6,202.0 1331.9,203.7 1332.2,201.7 1332.5,213.1 1332.8,212.5 1333.1,214.9 1333.4,214.8 1333.7,220.0 1334.0,216.6 1334.3,221.8 1334.6,228.1 1334.9,230.3 1335.2,232.4 1335.5,230.2 1335.9,233.5 1336.5,238.4 1337.1,235.4 1337.7,231.5 1338.3,220.4 1338.9,217.9 1339.5,217.0 1340.1,221.3 1340.6,211.4 1341.2,208.8 1341.8,206.3 1342.1,214.0 1342.4,214.7 1342.6,221.4 1342.9,215.6 1343.1,218.4 1343.4,230.4 1343.6,225.1 1343.8,234.9 1344.1,236.7 1344.3,235.3 1344.6,238.9 1344.8,247.3 1345.1,242.2 1345.3,255.5 1345.6,248.1 1345.8,252.3 1346.1,260.5 1346.3,257.5 1346.6,270.3 1346.9,266.8 1348.1,260.5 1349.7,258.1 1351.2,260.5 1352.7,262.8 1354.2,254.5 1354.9,256.7 1354.6,261.4 1354.4,265.1 1354.1,268.8 1353.8,267.1 1353.6,270.4 1353.3,278.8 1353.1,282.0 1352.8,279.3 1352.5,288.6 1353.6,278.1 1354.9,283.7 1356.1,282.1 1357.4,275.5 1358.7,274.3 1360.0,264.5 1361.2,270.0 1361.1,271.1 1361.0,273.0 1360.9,276.0 1360.8,274.4 1360.7,285.2 1360.5,284.6 1360.4,288.6 1360.3,286.7 1360.2,294.9 1360.1,293.6 1361.0,301.7 1362.8,294.9 1364.6,297.5 1366.4,302.0 1368.0,308.2 1369.1,317.3 1370.3,310.8 1371.5,318.2 1372.7,313.6 1373.9,318.6 1375.0,319.0 1375.4,320.5 1375.8,327.1 1376.1,328.5 1376.5,330.6 1376.9,337.6 1377.2,336.4 1378.5,346.7 1381.5,339.3 1384.5,348.7 1386.4,338.4 1386.9,344.4 1387.4,331.5 1387.9,327.9 1388.4,326.0 1388.9,329.9 1389.4,321.6 1389.9,319.2 1390.7,320.5 1391.6,310.1 1392.4,312.6 1393.3,307.8 1394.2,301.9 1395.0,307.5 1395.5,305.1 1396.0,308.1 1396.6,316.4 1397.1,322.0 1397.6,318.7 1398.1,321.3 1398.6,334.5 1399.1,332.3 1399.6,337.3 1400.5,338.6 1402.6,340.2 1404.8,333.2 1406.9,331.6 1408.0,328.7 1408.6,325.6 1409.3,332.3 1409.9,338.1 1410.6,337.6 1411.2,339.3 1411.9,338.5 1412.5,349.3 1413.6,343.6 1414.6,340.6 1415.7,338.4 1416.7,335.8 1417.8,331.7 1418.8,328.1 1419.9,326.8 1420.6,319.5 1421.2,318.9 1421.8,318.7 1422.5,321.1 1423.1,313.3 1423.7,312.1 1424.4,318.8 1425.0,321.1 1425.7,322.7 1426.3,324.3 1427.0,326.7 1427.6,324.8 1428.3,326.9 1428.9,328.7 1429.5,331.8 1430.1,340.5 1430.7,343.6 1431.3,340.4 1431.8,352.7 1432.4,351.5 1433.0,355.8 1433.6,353.8 1434.8,361.9 1436.1,351.6 1437.5,351.7 1438.8,353.1 1440.1,351.8 1441.3,349.1 1441.4,356.4 1441.6,349.1 1441.8,359.1 1441.9,359.1 1442.1,366.2 1442.3,367.4 1442.4,371.8 1443.9,373.0 1446.0,373.5 1448.1,369.6 1450.1,377.5 1450.6,383.0 1451.0,385.9 1451.5,390.5 1452.0,387.7 1452.5,386.0 1453.0,397.0 1453.5,394.8 1454.0,402.0 1454.5,398.1 1455.0,404.4 1455.5,410.7 1456.0,408.1 1456.5,413.4 1457.0,414.6 1457.5,426.1 1457.7,427.9 1458.0,429.4 1458.2,431.2 1458.5,439.4 1458.7,434.4 1459.0,442.5 1459.2,438.6 1459.5,447.7 1459.7,446.0 1460.0,446.9 1460.4,454.2 1460.9,443.3 1461.4,447.6 1461.9,440.4 1462.4,436.6 1462.9,432.9 1463.4,432.7 1463.9,420.4 1464.4,425.2 1464.9,414.0 1465.4,408.9 1465.9,416.0 1466.4,404.5 1466.8,406.6 1467.3,408.4 1467.8,403.9 1468.3,412.6 1468.8,415.4 1469.3,419.7 1469.8,417.4 1470.3,427.0 1470.8,431.7 1471.3,427.0 1471.8,439.4 1472.3,442.5 1473.2,438.6 1474.6,449.1 1475.9,451.1 1477.2,443.5 1478.6,452.2 1479.9,456.3 1481.1,456.6 1482.3,450.8 1483.5,455.8 1484.7,459.5 1485.8,460.5 1487.0,464.5 1488.2,465.0 1489.4,467.8 1490.6,474.5 1491.8,478.7 1492.9,483.3 1494.1,490.4 1495.6,482.3 1498.1,483.2 1500.6,486.5 1502.4,483.4 1501.9,478.9 1501.4,488.8 1500.9,485.7 1500.4,498.9 1499.9,494.6 1499.4,501.5 1498.9,503.0 1500.3,502.9 1502.7,495.0 1505.2,492.6 1507.6,494.5 1510.0,500.9 1512.4,496.9 1511.9,501.6 1511.2,504.0 1510.6,508.4 1509.9,514.7 1509.3,511.4 1508.6,513.3 1508.0,515.7 1507.9,517.7 1509.2,521.4 1510.6,523.6 1511.9,529.5 1513.3,528.9 1514.6,536.1 1516.3,536.3 1518.1,530.7 1519.9,526.0 1521.7,517.7 1522.8,516.6 1523.4,521.6 1523.9,528.9 1524.5,527.1 1525.0,529.9 1525.6,542.3 1526.1,537.3 1526.5,536.5 1526.8,544.1 1527.2,548.8 1527.5,548.7 1527.8,547.6 1528.2,554.4 1528.5,552.0 1529.1,560.5 1530.8,561.1 1532.6,552.2 1534.3,559.3 1536.0,561.0 1537.4,556.5 1536.8,554.1 1536.3,556.4 1535.7,564.0 1535.1,562.5 1534.5,573.3 1533.9,571.3 1533.3,570.8 1532.7,577.6 1534.3,575.4 1537.2,578.6 1540.1,576.7 1542.4,571.2 1541.8,582.2 1541.2,584.3 1540.6,581.8 1540.0,587.6 1542.8,585.3 1545.8,591.7 1547.5,590.4 1547.5,596.6 1547.5,597.6 1547.5,600.8 1547.5,598.4 1547.5,607.5 1547.5,604.7 1547.5,613.2 1547.5,614.9 1547.5,615.7 1548.0,614.9 1549.1,622.8 1550.2,625.9 1551.3,627.9 1552.4,622.3 1553.1,626.4 1553.8,632.0 1554.4,637.3 1555.1,632.6 1555.7,643.2 1556.4,647.1 1557.0,640.3 1557.8,649.0 1558.8,642.8 1559.9,637.4 1560.9,635.4 1562.0,634.0 1563.1,627.2 1564.1,631.9 1565.0,627.1 1564.7,628.9 1564.4,637.8 1564.1,641.9 1563.8,639.2 1563.5,640.6 1563.2,646.9 1562.9,647.7 1562.6,656.2 1564.4,651.2 1566.8,652.5 1569.2,654.9 1571.7,657.2 1574.1,655.3 1576.3,667.1 1576.8,662.4 1577.3,659.2 1577.8,661.3 1578.3,655.5 1578.8,654.4 1579.3,646.2 1579.8,645.6 1580.2,646.5 1580.7,645.6 1581.2,635.9 1581.7,634.4 1582.2,629.0 1582.7,628.2 1583.1,634.0 1583.6,640.4 1584.0,643.6 1584.5,641.5 1584.9,637.9 1585.4,643.6 1585.8,650.9 1586.3,656.8 1588.9,649.4 1591.5,657.4 1594.1,657.5 1595.3,646.9 1595.7,653.7 1596.2,647.8 1596.6,648.2 1597.1,643.9 1597.5,641.6 1598.0,641.4 1598.4,637.8 1599.0,631.7 1600.2,630.0 1601.5,634.2 1602.7,623.9 1603.8,623.4 1604.2,623.9 1604.6,629.2 1604.9,635.0 1605.3,633.5 1605.7,638.9 1606.1,643.8 1606.5,644.1 1606.9,651.1 1607.3,651.2 1607.6,651.8 1608.0,659.2 1608.4,660.0 1608.9,661.1 1610.2,654.5 1611.6,660.0 1612.9,647.0 1614.2,645.5 1615.6,645.1 1616.9,648.0 1617.7,642.4 1618.1,643.8 1618.5,653.9 1618.9,660.1 1619.3,657.9 1619.7,667.5 1620.1,663.1 1620.5,671.8 1620.9,664.3 1621.3,674.3 1621.7,679.0 1622.1,674.6 1622.5,683.4 1623.9,676.2 1625.4,669.5 1626.9,666.1 1628.4,672.7 1629.9,669.2 1631.4,667.9 1633.1,660.7 1635.6,655.5 1638.1,653.1 1640.2,657.5 1640.9,655.0 1641.6,660.2 1642.4,666.8 1643.1,666.5 1643.8,672.0 1644.5,674.6 1645.2,681.9 1645.6,680.8 1646.1,682.5 1646.5,693.5 1646.9,687.4 1647.4,695.8 1647.8,698.7 1648.3,698.7 1648.7,706.2 1650.5,704.2 1652.3,697.2 1654.1,691.5 1655.9,687.2 1657.5,696.2 1657.7,700.6 1657.8,695.9 1658.0,699.6 1658.1,706.4 1658.3,711.1 1658.5,715.1 1658.6,717.4 1658.8,719.7 1659.1,722.4 1659.4,719.0 1659.8,727.8 1660.1,733.4 1660.4,731.5 1660.8,733.5 1661.1,738.1 1661.9,738.5 1663.0,728.7 1664.2,733.1 1665.3,729.4 1666.4,722.3 1667.5,721.0 1668.7,718.6 1669.8,719.7 1670.3,728.0 1670.6,724.6 1671.0,733.5 1671.3,728.1 1671.7,731.7 1672.0,737.6 1672.4,736.5 1672.9,739.0 1673.7,748.1 1674.4,747.2 1675.1,753.8 1675.9,750.2 1676.6,752.7 1677.3,761.1 1678.2,754.8 1679.2,745.2 1680.1,744.4 1681.1,739.1 1682.0,737.1 1682.9,741.0 1683.9,734.2 1684.8,733.7 1686.5,728.7 1688.3,725.4 1688.8,730.4 1689.0,730.2 1689.1,734.7 1689.2,739.0 1689.3,739.2 1689.4,741.5 1689.5,744.5 1689.6,756.3 1689.8,752.6 1689.9,756.7 1690.0,763.0 1690.3,766.6 1690.6,768.8 1690.9,774.3 1691.2,773.6 1691.5,772.7 1691.8,781.0 1692.1,782.5 1692.4,790.1 1693.1,784.1 1694.3,787.5 1695.6,777.6 1696.8,778.5 1698.0,774.8 1699.2,768.6 1700.4,773.6 1701.4,772.1 1702.1,768.5 1702.7,776.5 1703.4,781.4 1704.0,780.6 1704.7,781.0 1705.3,787.7 1706.0,788.1 1706.5,793.5 1707.0,797.9 1707.4,797.2 1707.8,804.8 1708.3,806.4 1708.7,810.8 1709.2,810.8 1709.6,819.3 1710.3,815.4 1712.1,818.1 1713.9,817.7 1715.7,812.8 1717.5,826.1 1718.2,821.4 1718.9,813.9 1719.7,820.5 1720.4,816.2 1721.1,815.2 1721.9,809.3 1722.6,804.0 1723.3,804.0 1723.9,798.2 1724.4,801.8 1724.8,803.6 1725.3,806.0 1725.7,815.6 1726.2,813.4 1726.6,816.1 1727.0,817.3 1727.5,819.4 1728.1,820.8 1728.8,831.4 1729.4,831.5 1730.1,831.3 1730.7,836.6 1731.4,843.3 1732.0,842.0 1732.7,845.1 1733.6,851.5 1734.4,855.5 1735.2,863.5 1736.0,866.7 1736.9,868.8 1737.7,869.5 1738.4,870.2 1739.1,868.9 1739.8,880.0 1740.6,882.4 1741.3,882.1 1742.0,888.2 1742.8,893.3 1743.9,890.2 1744.9,896.8 1745.9,903.5 1746.9,897.3 1747.9,898.7 1749.0,908.9 1750.8,904.6 1752.5,891.7 1754.2,894.3 1754.8,895.4 1754.5,899.4 1754.1,901.4 1753.7,904.0 1753.4,907.7 1753.0,911.0 1752.7,908.3 1753.3,911.6 1755.1,914.3 1756.9,926.6 1758.7,926.4 1760.2,930.5 1761.0,930.1 1761.8,915.8 1762.6,912.4 1763.4,909.0 1764.2,911.7 1765.0,905.0 1765.8,895.4 1766.6,894.5 1767.3,898.5 1768.1,909.6 1768.8,906.9 1769.5,914.7 1770.2,917.7 1771.0,923.1 1771.4,921.8 1771.5,922.1 1771.7,928.0 1771.9,935.5 1772.0,939.4 1772.2,936.5 1772.4,940.7 1772.6,947.5 1773.0,946.7 1773.5,948.7 1774.0,952.8 1774.5,958.8 1775.0,959.8 1775.5,968.2 1776.0,969.7 1777.3,972.1 1779.4,966.1 1781.2,960.9 1781.2,960.9 1781.2,964.5 1781.2,974.8 1781.2,975.0 1781.2,972.0 1781.2,979.4 1782.7,984.0 1785.7,985.2 1788.7,989.0 1789.0,993.1 1789.2,991.5 1789.4,996.8 1789.6,993.4 1789.8,1003.2 1790.4,1004.1 1793.1,998.4 1795.9,998.8 1797.7,1008.1 1798.2,1006.3 1798.7,1011.2 1799.3,1015.2 1799.8,1023.0 1800.9,1019.2 1802.7,1019.4 1804.4,1022.1 1806.2,1029.2 1807.9,1023.3 1809.6,1030.0 1811.4,1030.9 1813.2,1030.8 1815.2,1031.9 1817.2,1037.0 1819.1,1035.0 1821.1,1042.0 1823.1,1048.2 1825.1,1050.4 1827.0,1054.3 1829.0,1052.1 1830.6,1050.8 1831.7,1053.6 1832.9,1057.9 1834.0,1063.4 1835.2,1067.1 1836.3,1067.2 1837.5,1066.0 1838.7,1074.5 1839.8,1080.4 1841.0,1076.3 1842.1,1083.2 1844.2,1084.4 1846.7,1089.9 1849.2,1083.8 1851.7,1093.9 1854.2,1093.5 1856.6,1096.1 1858.4,1093.8 1859.7,1095.0 1861.1,1096.1 1862.4,1108.3 1863.8,1107.7 1865.1,1111.9 1866.4,1114.6 1867.8,1114.7 1869.4,1117.2 1871.0,1118.2 1872.6,1125.3 1874.2,1125.7 1875.8,1123.8 1877.4,1133.3 1879.0,1131.6 1880.5,1139.4 1882.1,1142.8 1883.7,1138.8 1885.3,1139.9 1886.9,1148.3 1888.5,1150.7 1890.1,1156.5 1891.7,1152.3 1893.4,1154.1 1895.3,1155.1 1897.3,1158.2 1899.2,1157.2 1901.1,1163.2 1903.0,1161.8 1904.9,1166.8 1907.1,1169.5 1909.2,1168.8 1911.3,1175.2 1913.4,1179.5 1915.6,1177.4 1917.7,1180.1 1919.8,1181.0 1921.1,1187.7 1922.3,1189.6 1923.5,1193.1 1924.8,1192.0 1926.0,1195.5 1927.2,1197.7 1928.4,1202.3 1929.6,1211.9 1931.0,1211.5 1932.5,1211.7 1934.0,1211.0 1935.5,1217.5 1937.0,1215.6 1938.5,1222.5 1940.0,1225.5 1941.7,1228.0 1943.4,1229.7 1945.2,1231.1 1946.9,1233.1 1948.7,1235.1 1950.4,1239.9 1952.2,1239.8 1953.7,1244.1 1955.2,1250.1 1956.7,1253.4 1958.2,1255.1 1959.7,1254.9 1961.1,1260.9 1962.6,1263.4 1963.8,1263.2 1965.0,1265.1 1966.2,1267.2 1967.3,1270.6 1968.5,1271.0 1969.7,1273.1" stroke="#28a745" stroke-width="14.5" stroke-linecap="round"/>
<polyline points="640.4,1274.0 641.7,1272.9 642.9,1272.3 644.1,1269.5 645.4,1266.5 646.6,1268.1 647.8,1265.4 649.1,1262.4 650.3,1258.7 651.6,1257.8 652.8,1253.9 653.8,1254.3 654.9,1248.9 656.0,1246.1 657.1,1249.8 658.2,1246.4 659.3,1247.9 660.4,1244.0 661.5,1242.9 662.6,1240.4 663.7,1233.8 664.7,1233.5 665.8,1231.7 666.9,1234.4 668.0,1231.0 669.1,1230.4 670.2,1228.8 671.4,1226.1 672.5,1225.0 673.6,1223.7 674.8,1218.7 675.9,1217.0 677.1,1214.9 678.2,1209.8 679.3,1206.1 680.5,1206.8 681.6,1201.9 682.8,1202.4 683.9,1201.8 685.0,1202.5 686.2,1195.4 687.3,1195.3 688.5,1192.9 689.6,1193.1 690.7,1192.2 691.8,1187.8 692.9,1188.6 694.0,1184.0 695.1,1182.5 696.2,1178.9 697.3,1175.6 698.4,1178.5 699.4,1175.1 700.5,1171.4 701.6,1171.8 702.7,1167.5 703.8,1161.3 704.9,1162.7 706.0,1162.6 707.1,1159.6 708.0,1155.0 708.9,1155.5 709.8,1152.1 710.7,1150.2 711.6,1149.4 712.5,1151.5 713.3,1147.8 714.2,1144.1 715.1,1141.8 716.0,1133.0 716.9,1132.3 717.8,1129.3 718.7,1127.4 719.5,1130.4 720.5,1125.8 721.4,1124.5 722.4,1124.4 723.3,1117.5 724.3,1115.2 725.2,1118.3 726.2,1109.4 727.1,1114.1 728.1,1106.1 729.0,1100.3 730.0,1099.3 730.9,1095.8 731.9,1100.3 732.8,1091.0 733.7,1090.1 734.6,1094.7 735.5,1090.6 736.3,1091.3 737.2,1093.1 738.1,1086.9 739.0,1086.9 739.9,1079.9 740.8,1076.6 741.7,1074.2 742.5,1079.9 743.4,1071.3 744.3,1069.0 745.2,1067.9 746.0,1069.6 746.8,1069.4 747.6,1064.8 748.5,1063.2 749.3,1059.1 750.1,1058.7 750.9,1054.7 751.7,1048.0 752.4,1047.4 753.1,1051.8 753.8,1043.9 754.5,1043.8 755.2,1035.9 755.9,1038.5 756.5,1036.1 757.2,1027.8 757.9,1034.6 758.6,1027.9 759.5,1026.9 760.4,1030.2 761.3,1031.9 762.3,1029.0 763.2,1024.0 764.1,1016.4 765.0,1019.0 766.0,1018.1 766.9,1018.2 767.7,1008.7 768.4,1009.5 769.1,1009.6 769.7,1008.2 770.4,999.1 771.1,1006.6 771.8,995.8 772.5,1001.4 774.6,999.5 776.9,996.4 779.2,994.5 781.5,988.3 783.4,989.5 785.0,996.8 786.6,991.5 788.3,985.5 789.9,981.9 791.5,988.0 793.3,985.9 795.1,983.7 797.0,982.9 798.9,976.7 800.8,981.6 802.7,979.2 804.6,980.1 806.4,976.2 808.1,974.4 809.9,971.1 811.7,966.5 812.8,965.6 813.4,956.2 814.1,958.6 814.7,962.3 815.3,953.3 815.9,955.0 816.5,957.4 817.1,953.9 817.7,946.4 818.4,944.2 818.9,946.6 819.3,942.3 819.8,939.7 820.2,940.3 820.6,937.8 821.0,928.5 821.5,933.1 821.9,927.0 822.3,926.2 822.7,918.1 823.1,919.3 823.5,923.4 823.8,921.2 824.2,912.9 824.6,908.3 825.0,913.6 825.6,905.6 826.2,907.7 826.8,894.5 827.4,897.9 828.0,892.4 828.6,887.5 829.3,891.1 829.9,894.5 830.5,887.2 831.1,882.5 831.7,885.3 832.2,884.7 832.8,880.8 833.3,872.4 833.9,875.8 834.5,873.1 835.0,867.7 835.6,869.3 836.1,859.4 836.7,859.6 837.3,859.8 837.8,864.1 838.2,859.7 838.7,857.8 839.2,857.8 839.7,855.0 840.2,845.9 840.7,853.5 841.1,850.4 841.7,842.6 842.3,845.2 843.0,841.9 843.6,835.5 844.2,842.5 844.8,835.6 845.4,836.3 846.0,835.6 846.7,833.9 847.3,826.4 847.8,822.7 848.3,815.0 848.8,813.3 849.3,817.4 849.8,808.5 850.3,809.5 850.8,802.7 851.3,806.9 851.8,797.5 852.3,801.7 852.9,796.6 853.6,798.6 854.2,792.9 854.9,798.3 855.5,791.7 856.2,788.3 856.9,786.1 857.5,782.6 858.2,784.5 858.8,776.6 859.5,774.5 860.1,781.8 860.5,771.3 861.0,776.1 861.4,765.9 861.8,769.7 862.2,762.2 862.6,762.8 863.1,759.9 863.5,760.3 863.9,750.9 864.2,751.4 864.4,754.3 864.7,751.7 865.0,749.5 865.3,744.6 865.6,744.0 865.9,737.9 866.1,734.3 867.5,740.0 869.5,736.6 871.5,729.3 873.5,734.8 875.3,723.4 876.3,728.1 877.3,720.3 878.4,726.3 879.4,722.4 880.4,724.9 881.4,720.3 882.2,721.8 882.9,716.7 883.7,719.6 884.5,711.5 885.3,714.7 886.0,708.9 886.8,709.3 887.6,696.7 888.3,697.6 889.0,700.9 889.8,691.1 890.5,691.5 891.2,687.9 891.9,681.1 892.8,679.4 894.3,682.8 895.7,680.4 897.1,685.1 898.6,676.4 900.0,671.8 901.4,669.1 902.7,670.9 903.5,675.5 904.3,672.6 905.2,667.3 906.0,666.1 906.8,666.2 907.6,666.5 908.4,657.1 909.1,664.8 909.8,661.8 910.5,654.9 911.1,651.2 911.8,651.0 912.4,648.3 913.1,643.8 913.7,639.2 914.4,643.6 915.0,643.0 915.5,636.9 916.0,629.5 916.5,627.7 917.0,621.5 917.5,626.6 918.0,615.4 918.5,613.3 919.0,615.1 919.5,614.5 920.1,609.8 921.2,605.9 922.4,607.8 923.5,609.7 924.7,601.0 925.9,600.6 927.0,599.1 928.2,600.2 929.0,599.1 929.4,597.7 929.9,598.5 930.3,595.2 930.8,584.9 931.2,582.5 932.1,579.9 932.9,581.6 933.8,581.8 934.6,581.3 935.5,575.0 936.3,573.3 937.1,577.9 937.9,569.5 938.8,567.5 939.6,557.4 940.6,560.6 941.9,555.8 943.1,557.0 944.4,556.8 945.3,561.0 946.0,554.3 946.6,557.1 947.2,549.3 947.9,549.7 948.5,549.6 949.1,539.6 949.8,538.7 950.2,542.8 950.6,539.2 951.0,538.0 951.4,533.0 951.7,528.5 952.1,524.1 952.5,530.4 952.9,520.1 953.3,527.4 953.6,525.2 954.0,522.7 954.4,518.0 954.8,513.9 955.2,508.1 955.5,510.3 955.9,504.8 956.3,501.2 956.8,494.1 957.3,491.2 957.7,494.7 958.2,485.9 958.7,489.5 959.2,483.8 959.7,477.6 960.3,479.7 961.1,480.9 962.0,482.3 962.8,473.2 963.7,474.0 964.5,473.0 965.2,470.4 965.8,465.1 966.3,463.6 966.8,458.3 967.3,461.2 967.8,463.6 968.3,451.5 968.8,455.9 969.3,451.5 969.9,447.0 970.4,444.8 971.0,449.8 971.8,436.9 972.5,439.3 973.2,435.6 973.9,437.2 974.7,426.0 975.4,421.9 976.1,429.4 976.8,420.9 977.7,420.0 979.3,421.7 981.0,428.7 982.7,431.6 984.0,437.6 984.1,429.1 984.2,427.5 984.3,427.6 984.4,425.3 984.5,419.0 984.6,427.4 984.7,423.4 984.8,420.4 984.9,417.2 985.4,412.2 987.4,416.5 989.3,418.1 991.3,414.1 993.3,414.5 994.1,411.5 994.2,408.6 994.3,408.2 994.5,404.4 994.6,396.8 994.7,396.3 994.9,389.3 995.0,390.5 997.3,395.6 999.6,394.2 1001.9,399.8 1004.2,397.1 1006.0,395.1 1006.2,394.0 1006.3,394.0 1006.5,390.0 1006.6,387.2 1006.8,388.3 1006.9,384.2 1008.4,380.4 1010.6,374.5 1012.8,375.4 1015.0,383.3 1017.2,382.0 1019.1,384.3 1019.4,383.6 1019.7,379.3 1020.1,373.4 1020.4,376.4 1020.8,373.6 1021.1,370.0 1021.4,369.6 1021.8,363.4 1022.3,360.5 1022.9,370.2 1023.6,370.0 1024.3,363.0 1025.0,361.9 1025.7,362.4 1026.4,352.7 1027.1,358.0 1027.9,359.1 1028.7,353.0 1029.5,356.9 1030.3,359.9 1031.1,362.8 1031.9,358.4 1032.7,357.1 1033.1,362.6 1033.4,358.9 1033.6,355.1 1033.8,351.5 1034.1,345.2 1034.3,353.7 1034.5,346.0 1034.8,340.6 1035.0,339.6 1036.7,351.3 1038.6,348.0 1040.5,356.2 1042.0,355.3 1042.2,344.6 1042.3,349.3 1042.5,343.1 1042.6,340.4 1042.8,344.3 1042.9,333.1 1044.2,334.0 1046.0,338.6 1046.2,326.5 1046.5,330.1 1046.7,323.9 1046.9,321.3 1048.6,323.1 1050.8,331.0 1053.1,326.3 1055.3,326.3 1056.1,326.4 1056.2,324.0 1056.3,317.3 1056.5,311.7 1056.6,313.5 1056.7,305.0 1056.9,305.4 1057.0,302.6 1058.2,306.8 1059.6,302.1 1060.1,299.1 1060.3,295.9 1060.4,296.7 1060.6,294.7 1060.8,296.4 1060.9,290.3 1061.6,294.8 1062.7,282.3 1063.8,285.5 1064.2,280.8 1064.7,276.7 1065.1,276.1 1065.6,279.4 1066.0,270.9 1066.5,275.3 1067.0,269.0 1067.4,265.7 1067.6,260.0 1067.8,258.1 1067.9,264.7 1068.1,254.4 1068.2,254.0 1068.4,252.8 1068.5,247.3 1068.7,246.7 1069.0,245.1 1069.5,245.5 1069.9,240.4 1070.4,243.8 1070.8,240.3 1071.3,241.3 1072.6,238.5 1073.9,238.5 1075.2,240.4 1076.3,239.3 1076.9,236.1 1077.4,231.5 1078.0,233.2 1078.6,229.3 1079.1,226.9 1079.7,229.1 1080.2,218.2 1080.7,217.2 1081.2,223.3 1081.7,213.9 1082.1,208.1 1082.6,207.5 1083.1,203.5 1083.6,212.6 1084.1,204.1 1084.7,201.7 1085.2,200.1 1085.8,208.8 1086.6,209.4 1087.4,213.5 1088.2,208.0 1089.0,208.6 1089.8,210.0 1090.6,214.3 1091.4,217.1 1092.5,215.3 1093.6,219.4 1094.8,220.9 1095.9,213.6 1097.0,209.4 1098.2,204.0 1099.3,213.0 1100.2,200.7 1100.6,198.4 1101.1,199.7 1101.5,203.9 1102.0,195.1 1102.4,199.0 1104.0,198.9 1105.8,190.9 1107.6,191.1 1108.7,187.0 1109.8,190.5 1110.9,186.4 1112.0,186.9 1112.8,185.8 1113.3,185.0 1113.8,184.9 1114.3,185.9 1114.8,176.9 1115.3,172.2 1115.8,170.7 1116.3,172.5 1116.8,169.9 1117.3,161.6 1117.8,159.9 1118.3,160.5 1118.8,158.6 1119.2,157.2 1119.7,152.9 1120.2,153.0 1120.8,146.4 1122.5,151.6 1124.1,144.2 1125.7,149.3 1127.3,147.7 1128.8,158.9 1128.9,160.8 1129.0,160.5 1129.1,166.7 1129.2,160.1 1129.3,168.9 1129.4,168.2 1129.5,173.9 1129.6,177.0 1129.7,181.3 1129.8,183.9 1129.9,181.7 1130.0,188.3 1129.9,185.1 1129.8,190.6 1129.7,190.6 1129.6,196.5 1129.5,190.7 1129.5,199.8 1130.0,203.6 1130.5,205.0 1131.0,201.6 1131.5,209.9 1132.0,214.8 1132.5,209.0 1133.0,219.5 1133.5,213.6 1134.0,213.6 1134.5,220.4 1135.0,215.1 1135.2,223.6 1135.4,223.7 1135.6,231.8 1135.7,227.0 1135.9,231.8 1136.1,229.1 1136.3,236.4 1136.5,241.2 1136.7,238.6 1136.8,243.1 1137.0,250.1 1137.2,249.1 1137.4,249.8 1137.8,249.9 1138.7,247.6 1139.5,254.7 1140.4,249.4 1141.2,245.7 1142.0,241.6 1143.0,247.6 1144.2,249.3 1145.4,243.1 1146.5,245.0 1147.7,252.8 1148.9,247.1 1150.0,249.8 1150.1,252.4 1150.1,256.7 1150.2,256.6 1150.2,264.9 1150.3,265.5 1150.3,262.1 1150.4,262.2 1150.4,273.6 1150.5,274.2 1150.6,272.0 1150.7,277.6 1151.5,273.6 1152.2,277.0 1153.0,282.7 1153.8,284.0 1154.5,287.9 1154.9,289.8 1154.7,290.5 1154.5,293.1 1154.3,297.6 1154.2,303.0 1154.0,296.4 1153.8,306.5 1153.6,301.5 1153.4,305.9 1153.2,305.4 1153.0,314.9 1154.0,310.9 1155.0,306.0 1155.9,310.8 1156.9,306.3 1157.9,302.6 1158.9,298.2 1159.8,294.9 1161.0,298.1 1162.1,291.7 1163.3,290.8 1164.4,295.4 1165.6,290.1 1166.8,287.4 1167.9,284.9 1168.8,282.4 1169.1,288.2 1169.4,293.3 1169.7,297.1 1170.0,293.7 1170.3,292.9 1170.5,297.0 1170.8,298.2 1171.1,303.7 1171.4,301.8 1171.7,312.2 1172.0,312.4 1172.3,317.1 1172.5,321.0 1172.8,323.0 1173.1,318.6 1173.4,319.0 1173.7,324.1 1174.2,328.6 1174.7,326.5 1175.3,321.3 1175.8,316.1 1176.4,316.5 1177.0,310.4 1177.5,306.7 1178.1,304.0 1178.6,302.4 1179.2,310.7 1179.8,305.1 1180.3,303.9 1181.0,311.5 1181.6,310.4 1182.2,306.9 1182.8,314.7 1183.4,313.3 1184.0,316.8 1184.6,322.5 1185.2,313.1 1185.6,321.2 1186.1,311.0 1186.5,308.3 1187.0,309.0 1187.4,312.5 1187.8,305.2 1188.3,299.8 1188.7,304.6 1189.1,300.5 1189.2,299.2 1189.4,296.8 1189.6,296.3 1189.7,286.8 1189.9,290.0 1190.0,283.1 1190.2,280.9 1190.4,273.3 1190.5,280.3 1190.7,274.9 1190.9,269.6 1191.0,263.4 1191.2,262.9 1191.4,261.5 1191.5,262.1 1191.7,261.6 1191.9,254.3 1192.1,251.1 1192.2,245.9 1192.4,252.7 1192.6,243.0 1192.7,247.2 1192.9,243.6 1193.1,237.2 1193.6,236.9 1194.1,237.7 1194.7,240.4 1195.2,248.9 1195.8,253.5 1196.4,252.3 1196.9,250.1 1197.5,258.5 1198.0,259.0 1198.6,263.9 1199.1,263.8 1199.7,269.1 1200.3,266.4 1200.8,267.9 1201.2,265.2 1201.6,272.6 1202.0,267.0 1202.4,259.7 1202.9,265.4 1203.3,257.6 1203.7,251.1 1204.1,246.9 1204.5,244.0 1205.0,246.4 1205.1,241.7 1205.2,244.4 1205.4,241.2 1205.5,236.2 1205.6,231.9 1205.8,234.3 1205.9,232.9 1206.0,227.0 1206.2,227.2 1206.3,226.7 1206.4,219.8 1206.6,219.6 1206.7,213.7 1206.8,214.2 1207.0,210.3 1207.1,206.6 1207.2,212.2 1207.3,208.0 1207.5,206.1 1208.6,209.0 1209.8,207.2 1211.1,201.3 1212.4,198.5 1212.9,202.7 1213.4,208.3 1213.9,210.9 1214.4,212.6 1214.9,208.1 1215.3,211.6 1215.8,208.2 1216.3,213.5 1216.8,218.9 1217.3,213.7 1217.7,214.9 1218.1,217.8 1218.3,213.6 1218.5,210.9 1218.7,207.5 1218.9,208.2 1219.1,203.1 1219.3,209.2 1219.5,196.5 1219.7,194.6 1219.9,195.2 1220.1,200.1 1220.3,197.9 1220.5,189.3 1220.6,184.9 1220.8,190.6 1221.0,183.3 1221.2,188.6 1221.4,180.8 1221.5,179.6 1221.7,174.2 1221.8,179.2 1222.0,178.3 1222.1,175.3 1222.3,172.5 1222.5,166.2 1222.6,160.6 1222.8,158.0 1222.9,161.7 1223.1,162.5 1223.2,152.9 1223.4,153.0 1223.5,151.0 1223.7,151.2 1224.0,144.5 1224.6,146.0 1225.2,149.2 1225.7,155.1 1226.3,155.6 1226.8,164.3 1227.4,162.5 1228.0,169.8 1228.5,165.1 1229.1,166.4 1229.6,178.9 1230.3,175.2 1231.1,167.2 1232.0,168.5 1232.8,164.5 1233.7,157.5 1234.6,162.4 1235.4,159.6 1236.3,153.3 1237.1,148.8 1237.8,147.9 1238.5,153.0 1239.1,145.7 1239.7,146.0 1240.3,139.4 1240.9,142.3 1241.5,144.4 1242.1,141.3 1242.7,133.5 1243.3,129.7 1244.0,131.2 1244.5,129.6 1244.7,133.8 1245.0,128.2 1245.2,137.4 1245.5,142.5 1245.7,135.4 1246.0,140.2 1246.2,143.0 1246.5,149.4 1246.7,143.2 1247.0,143.8 1247.2,149.4 1247.5,157.6 1247.7,152.8 1248.0,154.4 1249.2,163.0 1251.2,157.6 1253.3,168.0 1255.1,166.8 1255.8,163.8 1256.6,165.4 1257.3,157.9 1258.1,156.4 1258.8,150.8 1259.5,153.9 1260.3,150.5 1261.0,146.8 1261.4,139.1 1261.7,145.9 1261.9,149.0 1262.1,151.8 1262.4,159.5 1262.6,153.1 1262.9,160.9 1263.1,164.8 1263.4,163.3 1263.6,164.4 1263.9,164.8 1264.1,174.9 1264.4,172.8 1264.6,176.5 1264.8,177.7 1265.2,178.9 1265.9,183.7 1266.6,178.2 1267.2,178.4 1267.9,171.2 1268.5,173.1 1269.2,171.6 1269.9,161.7 1270.5,168.5 1271.2,156.8 1271.8,159.9 1272.5,155.1 1272.7,160.7 1272.9,158.1 1273.1,163.9 1273.3,166.6 1273.5,161.6 1273.6,169.5 1273.8,170.8 1274.0,171.0 1274.2,170.6 1274.4,172.2 1274.6,181.2 1274.8,180.2 1275.0,187.0 1275.4,177.7 1275.9,181.6 1276.4,172.5 1276.9,172.0 1277.4,167.9 1277.9,174.6 1278.4,173.1 1278.9,166.4 1279.4,163.9 1279.8,168.2 1280.3,162.8 1280.8,158.5 1281.4,162.3 1282.2,166.2 1283.0,171.1 1283.9,172.9 1284.7,177.8 1285.5,171.1 1286.4,181.3 1287.2,176.4 1288.1,183.4 1288.9,183.1 1289.7,185.0 1290.6,181.8 1291.4,186.2 1292.3,191.1 1292.9,184.9 1293.4,185.0 1293.8,181.4 1294.3,180.9 1294.8,174.5 1295.3,177.4 1295.8,170.8 1296.3,164.6 1296.8,173.1 1297.3,169.3 1297.8,167.7 1298.3,167.2 1298.8,158.0 1299.3,156.6 1299.8,154.0 1300.8,155.6 1302.0,160.6 1303.2,153.4 1304.4,164.7 1305.6,162.4 1306.8,169.5 1307.5,168.9 1307.6,170.8 1307.7,171.3 1307.8,176.7 1307.9,176.2 1308.0,183.1 1308.0,179.2 1308.1,179.5 1308.2,187.2 1308.3,184.9 1308.4,187.4 1308.5,198.9 1308.6,198.6 1308.6,195.9 1308.7,199.2 1309.3,199.8 1310.2,195.1 1311.1,192.8 1312.0,189.5 1312.9,186.9 1313.7,183.8 1314.6,189.0 1315.2,187.9 1315.4,192.5 1315.7,190.6 1316.0,187.6 1316.2,193.4 1316.5,200.1 1316.8,198.9 1317.0,203.3 1317.3,199.0 1317.6,200.0 1317.8,211.7 1318.1,208.7 1318.4,215.5 1318.6,214.2 1318.9,213.8 1319.2,220.5 1319.5,220.2 1319.7,219.0 1320.0,228.4 1320.5,228.9 1321.0,225.1 1321.6,221.4 1322.1,221.0 1322.6,219.4 1323.1,208.8 1323.7,217.3 1324.2,205.7 1324.7,203.9 1325.2,207.5 1325.8,199.0 1326.3,203.2 1326.8,202.9 1327.4,197.1 1327.9,187.6 1328.4,186.9 1328.9,190.5 1329.5,186.3 1330.0,182.9 1330.2,182.7 1330.5,183.8 1330.7,188.0 1330.9,190.8 1331.1,192.4 1331.4,200.1 1331.6,195.9 1331.8,198.9 1332.0,204.0 1332.3,205.5 1332.5,207.8 1332.7,205.6 1333.0,212.6 1333.2,218.8 1333.4,222.2 1333.6,223.1 1333.9,220.5 1334.1,226.1 1334.3,225.3 1334.6,228.7 1334.8,236.5 1335.0,233.8 1335.2,237.8 1335.5,237.8 1335.8,240.1 1336.2,237.1 1336.7,228.7 1337.1,228.8 1337.6,231.8 1338.1,227.4 1338.5,228.2 1339.0,219.5 1339.4,216.8 1339.9,222.2 1340.3,219.8 1340.8,218.6 1341.2,219.1 1341.7,211.3 1342.0,219.8 1342.2,221.4 1342.4,223.7 1342.6,224.5 1342.8,220.8 1343.0,229.5 1343.1,232.7 1343.3,234.9 1343.5,236.3 1343.7,237.1 1343.9,233.0 1344.1,234.4 1344.3,240.9 1344.5,247.0 1344.7,244.9 1344.8,247.0 1345.0,251.2 1345.2,246.7 1345.4,252.5 1345.6,253.3 1345.8,254.5 1346.0,256.0 1346.2,264.5 1346.4,268.3 1346.6,267.9 1346.8,272.0 1347.3,266.9 1348.5,261.0 1349.7,266.5 1350.8,259.6 1352.0,258.2 1353.2,262.5 1354.3,263.2 1354.9,257.7 1354.7,259.4 1354.5,264.4 1354.3,264.4 1354.1,268.8 1353.9,268.4 1353.7,268.7 1353.5,276.2 1353.3,280.3 1353.1,282.7 1352.9,283.5 1352.7,280.2 1352.5,289.7 1353.4,282.2 1354.3,277.1 1355.3,279.1 1356.3,280.4 1357.2,274.6 1358.2,273.7 1359.2,275.8 1360.2,271.3 1361.1,268.4 1361.2,274.8 1361.1,270.6 1361.0,276.0 1360.9,273.1 1360.8,282.5 1360.7,280.3 1360.6,286.7 1360.5,287.7 1360.4,293.6 1360.3,286.9 1360.2,289.1 1360.2,301.1 1360.1,298.6 1360.4,303.7 1361.8,300.6 1363.2,296.5 1364.5,305.6 1365.9,302.0 1367.3,306.3 1368.3,311.6 1369.2,315.4 1370.1,320.2 1371.0,318.4 1371.9,314.3 1372.8,320.3 1373.7,314.1 1374.6,325.0 1375.2,328.6 1375.4,329.0 1375.7,327.3 1376.0,329.0 1376.3,337.1 1376.6,329.7 1376.9,341.9 1377.2,337.4 1377.4,340.9 1379.4,341.8 1381.7,345.1 1384.0,351.5 1386.3,349.2 1386.6,339.4 1387.0,334.2 1387.4,331.8 1387.8,332.8 1388.1,332.0 1388.5,329.8 1388.9,326.9 1389.3,326.1 1389.7,323.4 1390.1,324.0 1390.7,319.8 1391.4,321.8 1392.1,316.2 1392.7,315.7 1393.4,306.0 1394.1,312.5 1394.7,310.4 1395.2,307.3 1395.6,306.7 1396.0,308.7 1396.4,313.0 1396.8,320.3 1397.2,320.2 1397.6,323.2 1398.0,329.7 1398.4,330.1 1398.7,329.1 1399.1,324.4 1399.5,326.6 1399.9,334.1 1401.3,326.1 1402.9,331.5 1404.6,333.2 1406.2,333.2 1407.6,332.8 1408.1,330.3 1408.6,331.1 1409.1,340.6 1409.6,336.5 1410.1,338.2 1410.6,342.0 1411.1,346.1 1411.6,341.5 1412.1,346.9 1412.6,345.1 1413.4,349.7 1414.2,349.0 1415.1,346.9 1415.9,340.6 1416.7,336.2 1417.5,338.8 1418.3,330.6 1419.1,327.4 1419.9,326.7 1420.4,323.7 1420.9,323.2 1421.4,330.3 1421.9,323.8 1422.4,317.9 1422.8,320.1 1423.3,316.8 1423.8,312.2 1424.3,315.3 1424.8,325.8 1425.3,324.1 1425.8,331.6 1426.3,324.7 1426.8,328.0 1427.3,335.6 1427.8,332.4 1428.3,337.0 1428.8,337.5 1429.2,335.3 1429.7,338.2 1430.1,343.4 1430.6,337.8 1431.0,346.6 1431.5,349.4 1431.9,342.7 1432.4,348.1 1432.8,352.2 1433.3,357.8 1433.7,357.0 1434.8,357.2 1435.8,351.3 1436.8,352.0 1437.9,352.5 1438.9,352.1 1439.9,355.9 1440.9,346.6 1441.3,352.5 1441.5,346.7 1441.6,355.0 1441.7,360.2 1441.8,357.3 1442.0,358.4 1442.1,360.7 1442.2,366.0 1442.4,369.5 1442.5,375.5 1444.0,369.7 1445.6,372.1 1447.2,365.9 1448.8,369.7 1450.1,369.0 1450.5,377.7 1450.9,375.5 1451.2,380.9 1451.6,381.7 1452.0,382.1 1452.4,387.5 1452.8,384.1 1453.1,393.3 1453.5,394.6 1453.9,391.9 1454.3,396.4 1454.6,402.0 1455.0,404.9 1455.4,408.0 1455.8,410.5 1456.2,412.8 1456.5,414.0 1456.9,411.2 1457.3,422.8 1457.6,415.3 1457.8,419.1 1458.0,422.8 1458.2,421.4 1458.4,426.7 1458.5,436.7 1458.7,431.7 1458.9,438.4 1459.1,443.1 1459.3,436.9 1459.5,445.8 1459.7,448.7 1459.9,453.3 1460.1,444.9 1460.5,449.1 1460.9,446.2 1461.3,445.5 1461.7,442.1 1462.0,444.5 1462.4,441.9 1462.8,434.5 1463.2,432.7 1463.5,428.7 1463.9,434.6 1464.3,425.9 1464.7,431.1 1465.1,416.8 1465.4,424.6 1465.8,413.5 1466.2,409.5 1466.6,404.3 1466.9,409.2 1467.3,401.9 1467.7,402.7 1468.1,402.2 1468.5,409.8 1468.8,409.3 1469.2,413.8 1469.6,410.8 1470.0,418.2 1470.3,413.0 1470.7,424.7 1471.1,417.1 1471.5,425.3 1471.9,424.4 1472.2,427.9 1472.8,433.5 1473.8,432.1 1474.9,439.5 1475.9,440.9 1476.9,448.9 1478.0,451.5 1479.0,449.6 1480.0,451.0 1480.9,449.0 1481.8,446.5 1482.7,455.9 1483.6,452.9 1484.5,455.2 1485.5,463.5 1486.4,465.5 1487.3,460.1 1488.2,467.7 1489.1,469.3 1490.0,468.0 1490.9,474.7 1491.8,482.7 1492.7,480.1 1493.6,481.4 1494.5,482.9 1495.9,486.6 1497.8,476.2 1499.7,475.3 1501.6,481.5 1502.3,487.7 1501.9,486.1 1501.5,485.3 1501.2,490.7 1500.8,485.1 1500.4,491.3 1500.0,494.2 1499.6,490.8 1499.3,494.1 1498.9,496.9 1499.9,501.1 1501.8,505.4 1503.6,494.1 1505.5,497.3 1507.4,494.2 1509.2,498.9 1511.1,491.9 1512.4,493.4 1511.9,493.2 1511.4,491.4 1510.9,500.7 1510.4,504.0 1509.9,509.5 1509.4,502.4 1508.9,503.1 1508.4,514.4 1507.9,508.5 1507.7,511.0 1508.7,511.5 1509.8,517.8 1510.8,518.2 1511.8,519.4 1512.9,522.8 1513.9,519.1 1514.9,520.9 1516.3,523.9 1517.6,528.3 1519.0,526.6 1520.4,523.3 1521.8,520.4 1522.7,527.4 1523.1,530.7 1523.6,529.7 1524.0,531.6 1524.4,530.0 1524.8,539.4 1525.2,533.9 1525.7,538.0 1526.1,541.8 1526.4,546.9 1526.7,540.9 1526.9,550.7 1527.2,551.7 1527.4,546.6 1527.7,551.4 1527.9,559.4 1528.2,558.6 1528.4,556.4 1528.7,566.9 1529.8,560.5 1531.1,557.5 1532.4,552.8 1533.8,552.7 1535.1,554.2 1536.4,550.3 1537.4,550.5 1537.0,545.2 1536.5,554.0 1536.1,553.4 1535.6,563.3 1535.2,562.9 1534.7,569.2 1534.3,567.5 1533.8,571.1 1533.4,568.6 1532.9,569.9 1532.7,572.0 1534.9,575.3 1537.1,568.4 1539.4,568.2 1541.6,573.3 1542.2,567.4 1541.8,579.6 1541.3,581.0 1540.9,575.1 1540.4,583.2 1540.1,577.4 1542.4,585.7 1544.7,584.8 1547.0,588.2 1547.5,596.6 1547.5,594.9 1547.5,595.3 1547.5,594.0 1547.5,597.4 1547.5,607.3 1547.5,600.7 1547.5,609.1 1547.5,615.6 1547.5,607.5 1547.5,613.2 1547.5,617.0 1547.5,616.4 1548.1,627.2 1549.0,627.5 1549.8,626.9 1550.7,618.4 1551.6,625.4 1552.4,622.8 1552.9,623.3 1553.4,628.7 1553.9,628.8 1554.4,633.6 1554.9,627.6 1555.4,637.9 1555.9,635.1 1556.4,644.1 1556.9,648.8 1557.4,653.7 1558.2,645.1 1559.0,650.8 1559.8,643.1 1560.6,644.8 1561.4,634.8 1562.2,638.4 1563.1,638.4 1563.9,638.1 1564.7,628.3 1564.9,628.3 1564.6,630.5 1564.4,639.6 1564.2,641.7 1564.0,644.8 1563.7,646.6 1563.5,642.7 1563.3,648.9 1563.0,644.7 1562.8,648.1 1562.6,649.4 1563.7,661.4 1565.6,654.2 1567.5,659.0 1569.3,662.6 1571.2,660.5 1573.0,663.2 1574.9,666.5 1576.4,669.6 1576.7,665.4 1577.1,658.9 1577.5,655.6 1577.9,656.4 1578.2,656.5 1578.6,654.3 1579.0,652.3 1579.4,648.2 1579.8,642.2 1580.1,647.2 1580.5,638.4 1580.9,639.4 1581.3,636.2 1581.6,632.5 1582.0,630.7 1582.4,629.2 1582.8,629.2 1583.1,631.8 1583.4,631.0 1583.8,635.2 1584.1,639.1 1584.5,634.8 1584.8,639.0 1585.1,642.0 1585.5,641.5 1585.8,646.6 1586.2,649.2 1587.7,657.8 1589.7,661.9 1591.7,661.2 1593.7,658.1 1595.1,662.2 1595.5,657.4 1595.8,655.5 1596.1,649.2 1596.5,652.6 1596.8,647.8 1597.2,646.3 1597.5,642.0 1597.9,643.9 1598.2,638.5 1598.5,636.3 1599.1,635.0 1600.0,631.1 1601.0,631.4 1601.9,625.0 1602.8,628.8 1603.8,627.2 1604.1,624.9 1604.3,624.7 1604.6,633.7 1604.9,635.3 1605.2,629.6 1605.5,638.1 1605.8,641.7 1606.1,639.5 1606.4,636.9 1606.7,643.1 1607.0,645.0 1607.3,646.7 1607.6,648.0 1607.9,650.4 1608.2,650.1 1608.5,651.3 1608.8,662.5 1609.8,651.7 1610.8,652.8 1611.9,649.0 1612.9,649.0 1613.9,650.2 1615.0,648.3 1616.0,647.8 1617.0,645.4 1617.7,647.8 1618.0,643.8 1618.3,652.2 1618.6,649.8 1618.9,657.9 1619.2,652.6 1619.5,655.2 1619.8,658.6 1620.1,663.9 1620.4,663.1 1620.7,671.0 1621.0,672.3 1621.3,671.6 1621.6,676.9 1621.9,669.9 1622.2,674.2 1622.6,674.4 1623.7,679.6 1624.9,668.2 1626.0,669.6 1627.2,663.9 1628.3,671.8 1629.4,666.6 1630.6,660.8 1631.7,667.1 1633.1,664.3 1635.0,659.2 1636.9,657.9 1638.8,659.2 1640.2,662.2 1640.8,658.5 1641.3,664.4 1641.9,665.8 1642.5,674.4 1643.0,675.5 1643.6,678.7 1644.1,672.8 1644.7,682.9 1645.1,679.9 1645.5,676.0 1645.8,684.7 1646.2,683.6 1646.5,685.1 1646.9,687.6 1647.2,697.0 1647.5,694.7 1647.9,699.5 1648.2,706.1 1648.6,708.0 1649.4,703.1 1650.8,705.6 1652.2,699.9 1653.5,692.0 1654.9,697.5 1656.3,697.6 1657.5,693.1 1657.6,697.5 1657.8,701.6 1657.9,696.7 1658.0,697.4 1658.1,702.2 1658.2,710.2 1658.4,713.7 1658.5,708.0 1658.6,714.8 1658.7,715.6 1658.9,716.3 1659.2,718.8 1659.4,724.7 1659.7,728.6 1659.9,732.9 1660.2,736.7 1660.5,733.1 1660.7,737.9 1661.0,741.1 1661.2,746.8 1662.0,743.5 1662.9,741.0 1663.7,734.9 1664.6,730.0 1665.5,725.5 1666.3,725.0 1667.2,728.7 1668.1,724.2 1668.9,716.9 1669.8,718.9 1670.2,717.4 1670.5,719.9 1670.7,720.5 1671.0,730.3 1671.3,728.5 1671.5,728.9 1671.8,731.7 1672.1,731.2 1672.3,740.1 1672.7,739.1 1673.3,746.6 1673.8,747.7 1674.4,748.0 1674.9,746.5 1675.5,749.3 1676.1,757.8 1676.6,751.8 1677.2,761.4 1677.8,763.7 1678.5,755.4 1679.2,754.0 1680.0,745.9 1680.7,747.6 1681.4,738.5 1682.2,744.7 1682.9,732.4 1683.6,733.3 1684.3,732.1 1685.1,733.5 1686.5,729.5 1687.9,729.9 1688.8,736.2 1688.9,735.7 1689.0,736.9 1689.0,739.2 1689.1,740.7 1689.2,739.9 1689.3,746.4 1689.4,744.2 1689.5,748.2 1689.6,753.2 1689.7,757.3 1689.8,760.1 1689.8,754.6 1689.9,759.5 1690.1,763.5 1690.3,768.8 1690.5,773.6 1690.7,768.1 1691.0,778.2 1691.2,776.9 1691.4,777.6 1691.7,775.3 1691.9,776.3 1692.1,786.7 1692.3,788.2 1692.8,790.1 1693.7,783.9 1694.6,781.3 1695.6,781.8 1696.5,771.8 1697.4,770.1 1698.3,771.1 1699.2,770.4 1700.2,772.6 1701.1,767.8 1701.7,770.0 1702.2,772.5 1702.7,778.1 1703.2,784.8 1703.7,780.9 1704.2,785.0 1704.7,779.0 1705.2,782.2 1705.6,785.9 1706.1,782.1 1706.5,792.5 1706.9,793.4 1707.2,796.9 1707.5,794.4 1707.9,807.0 1708.2,799.7 1708.6,802.7 1708.9,806.3 1709.3,814.6 1709.6,817.0 1709.9,823.7 1711.1,816.5 1712.5,815.0 1713.9,819.7 1715.3,819.6 1716.6,823.7 1717.7,825.9 1718.3,825.5 1718.8,823.7 1719.4,815.6 1719.9,818.7 1720.5,816.6 1721.1,817.7 1721.6,816.9 1722.2,814.6 1722.7,812.5 1723.3,810.9 1723.8,803.7 1724.1,812.9 1724.5,804.1 1724.8,814.3 1725.2,813.3 1725.5,814.1 1725.9,818.9 1726.2,816.9 1726.5,824.7 1726.9,828.7 1727.2,823.1 1727.6,823.6 1728.1,828.8 1728.6,833.4 1729.1,832.4 1729.6,838.2 1730.1,839.4 1730.6,847.4 1731.1,846.8 1731.6,843.9 1732.1,842.6 1732.6,846.4 1733.2,853.8 1733.9,844.0 1734.5,847.0 1735.1,852.8 1735.8,854.9 1736.4,863.6 1737.0,867.5 1737.6,873.4 1738.2,866.6 1738.8,876.7 1739.3,875.7 1739.9,879.2 1740.4,880.9 1741.0,878.0 1741.5,883.9 1742.1,878.4 1742.7,884.8 1743.5,885.8 1744.3,889.5 1745.0,892.3 1745.8,893.7 1746.6,893.7 1747.4,895.1 1748.1,906.7 1749.0,905.2 1750.4,898.6 1751.7,892.7 1753.0,894.4 1754.4,892.1 1754.9,900.0 1754.6,896.1 1754.3,899.0 1754.1,901.2 1753.8,907.3 1753.5,903.4 1753.2,913.3 1753.0,912.0 1752.7,914.9 1752.8,917.2 1754.2,916.6 1755.6,923.1 1756.9,926.7 1758.3,929.1 1759.7,922.8 1760.5,924.1 1761.1,914.4 1761.7,913.6 1762.3,913.8 1762.9,911.2 1763.6,906.3 1764.2,904.3 1764.8,900.4 1765.4,897.4 1766.0,901.6 1766.6,896.6 1767.2,904.0 1767.7,909.9 1768.3,912.6 1768.8,909.7 1769.4,907.8 1769.9,912.6 1770.5,922.1 1771.1,924.9 1771.3,925.5 1771.5,924.4 1771.6,933.0 1771.7,925.2 1771.8,935.6 1772.0,933.3 1772.1,940.0 1772.2,941.9 1772.4,944.4 1772.5,942.3 1772.8,950.2 1773.2,950.3 1773.6,954.1 1774.0,951.3 1774.3,950.4 1774.7,957.3 1775.1,954.9 1775.5,961.7 1775.9,964.5 1776.2,961.9 1777.8,960.8 1779.4,958.6 1781.1,957.3 1781.2,962.0 1781.2,970.4 1781.2,973.6 1781.2,973.4 1781.2,971.4 1781.2,978.6 1781.2,975.4 1781.2,981.3 1781.7,982.7 1784.0,976.6 1786.3,981.2 1788.6,986.2 1788.9,981.0 1789.1,992.1 1789.2,987.9 1789.4,991.4 1789.6,990.5 1789.7,994.0 1789.9,995.5 1790.6,1003.6 1792.8,1001.5 1794.9,995.8 1797.0,1003.1 1797.8,1001.0 1798.2,1004.3 1798.6,1011.9 1799.0,1014.3 1799.4,1012.3 1799.8,1014.5 1800.5,1021.9 1801.9,1015.3 1803.2,1024.5 1804.5,1019.1 1805.9,1025.4 1807.2,1033.2 1808.5,1035.7 1809.9,1031.3 1811.2,1029.4 1812.6,1030.4 1814.1,1032.1 1815.6,1038.0 1817.1,1048.5 1818.6,1050.5 1820.1,1044.3 1821.6,1041.5 1823.2,1049.9 1824.7,1051.8 1826.2,1053.7 1827.7,1053.5 1829.2,1057.5 1830.4,1056.6 1831.3,1064.6 1832.2,1066.7 1833.1,1061.2 1834.0,1063.8 1834.8,1067.5 1835.7,1065.8 1836.6,1070.1 1837.5,1070.9 1838.4,1077.9 1839.3,1080.4 1840.2,1082.2 1841.0,1085.3 1841.9,1089.9 1843.2,1089.5 1845.1,1088.1 1847.0,1086.0 1848.9,1088.4 1850.8,1096.7 1852.7,1092.1 1854.7,1090.3 1856.6,1086.4 1858.0,1088.6 1859.1,1092.6 1860.1,1098.1 1861.1,1103.2 1862.1,1105.2 1863.2,1106.5 1864.2,1110.5 1865.2,1112.3 1866.3,1112.2 1867.3,1116.9 1868.5,1116.8 1869.7,1118.2 1870.9,1122.4 1872.1,1122.6 1873.3,1125.0 1874.6,1128.2 1875.8,1125.5 1877.0,1130.0 1878.2,1127.3 1879.4,1136.4 1880.7,1133.9 1881.9,1141.2 1883.1,1137.4 1884.3,1139.0 1885.5,1142.3 1886.7,1148.5 1888.0,1153.0 1889.2,1150.6 1890.4,1149.3 1891.6,1149.7 1892.9,1152.4 1894.4,1160.8 1895.9,1162.3 1897.3,1157.5 1898.8,1163.4 1900.3,1166.6 1901.7,1165.2 1903.2,1170.6 1904.7,1168.0 1906.3,1168.4 1907.9,1172.4 1909.5,1172.6 1911.2,1178.8 1912.8,1174.0 1914.4,1176.1 1916.0,1178.4 1917.7,1182.5 1919.3,1183.9 1920.5,1190.7 1921.5,1192.1 1922.4,1191.6 1923.3,1194.7 1924.3,1191.4 1925.2,1198.1 1926.1,1197.9 1927.1,1201.8 1928.0,1203.0 1928.9,1202.7 1929.9,1210.1 1931.0,1210.4 1932.1,1212.9 1933.3,1214.3 1934.4,1214.5 1935.5,1218.8 1936.7,1216.9 1937.8,1218.4 1939.0,1222.5 1940.1,1223.4 1941.5,1230.0 1942.8,1227.5 1944.1,1233.5 1945.5,1233.1 1946.8,1233.8 1948.2,1236.4 1949.5,1237.8 1950.8,1239.1 1952.2,1238.6 1953.4,1244.2 1954.5,1245.8 1955.6,1246.3 1956.8,1248.8 1957.9,1254.0 1959.1,1254.0 1960.2,1258.1 1961.3,1259.4 1962.5,1259.0 1963.4,1261.2 1964.3,1267.1 1965.2,1267.5 1966.1,1268.2 1967.0,1269.5 1967.9,1272.5 1968.8,1274.8" stroke="#28a745" stroke-width="14.5" stroke-linecap="round"/>
</g>
<rect x="334.0" y="65.0" width="2094.0" height="1387.0" fill="none" stroke="#000" stroke-width="6.25" stroke-linejoin="miter"/>
<text x="474.6" y="1564" text-anchor="middle" letter-spacing="1.5">400</text>
<text x="1030.5" y="1564" text-anchor="middle" letter-spacing="1.5">600</text>
<text x="1587.0" y="1564" text-anchor="middle" letter-spacing="0.5">800</text>
<text x="2139.4" y="1564" text-anchor="middle" letter-spacing="0">1000</text>
<text x="159" y="1422.7" letter-spacing="2.5">0.0</text>
<text x="159" y="1170.5" letter-spacing="2.5">0.2</text>
<text x="159" y="918.3" letter-spacing="2.5">0.4</text>
<text x="159" y="666.1" letter-spacing="2.5">0.6</text>
<text x="159" y="413.9" letter-spacing="2.5">0.8</text>
<text x="153.6" y="161.7" letter-spacing="2.5">1.0</text>
<text x="1382.5" y="1702" text-anchor="middle">Wavelength (nm)</text>
<text transform="translate(90.9 760.6) rotate(-90)" text-anchor="middle">Normalized Response</text>
<path d="M1011.25 1022.4H1211.75" stroke="#ff0000" stroke-width="12.5" stroke-linecap="square"/>
<circle cx="1111.5" cy="1022.4" r="18.75" fill="#ff0000"/>
<path d="M1011.25 1164.2H1211.75" stroke="#000" stroke-width="12.5" stroke-linecap="square"/>
<path d="M1011.25 1305.4H1211.75" stroke="#28a745" stroke-width="12.5" stroke-linecap="square"/>
<text x="1285.25" y="1058.3">SLS201L Power</text>
<text x="1288.75" y="1200.1">Black Body - T = 2650°K</text>
<text x="1288.75" y="1341.3">Recorded Lamp Spectrum</text>
</svg>
</body></html>
